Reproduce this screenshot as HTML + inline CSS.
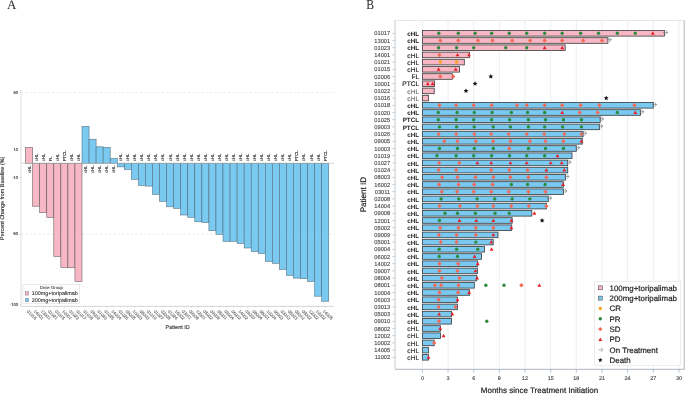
<!DOCTYPE html>
<html><head><meta charset="utf-8"><title>Figure</title>
<style>
html,body{margin:0;padding:0;background:#fff;}
body{width:685px;height:394px;overflow:hidden;font-family:"Liberation Sans", sans-serif;}
svg{display:block;will-change:transform;}
text{text-rendering:geometricPrecision;}
</style></head>
<body>
<svg width="685" height="394" viewBox="0 0 685 394">
<rect x="0" y="0" width="685" height="394" fill="#fff"/>
<text x="7" y="8.7" font-family="'Liberation Serif', serif" font-size="13" fill="#2a2a2a">A</text>
<line x1="21" y1="92.5" x2="334" y2="92.5" stroke="#d8d8d8" stroke-width="0.6" stroke-dasharray="2.2,2.2"/>
<line x1="21" y1="234" x2="334" y2="234" stroke="#d8d8d8" stroke-width="0.6" stroke-dasharray="2.2,2.2"/>
<line x1="21" y1="90" x2="21" y2="306.3" stroke="#d0d5da" stroke-width="0.8"/>
<line x1="21" y1="306.3" x2="334" y2="306.3" stroke="#c5ccd4" stroke-width="0.8"/>
<line x1="19.3" y1="92.5" x2="21" y2="92.5" stroke="#c5ccd4" stroke-width="0.6"/>
<text stroke="#333" stroke-width="0.101" x="18.2" y="93.95" font-family='"Liberation Sans", sans-serif' font-size="4.2" fill="#333" text-anchor="end">50</text>
<line x1="19.3" y1="149.1" x2="21" y2="149.1" stroke="#c5ccd4" stroke-width="0.6"/>
<text stroke="#333" stroke-width="0.101" x="18.2" y="150.55" font-family='"Liberation Sans", sans-serif' font-size="4.2" fill="#333" text-anchor="end">10</text>
<line x1="19.3" y1="177.4" x2="21" y2="177.4" stroke="#c5ccd4" stroke-width="0.6"/>
<text stroke="#333" stroke-width="0.101" x="18.2" y="178.85" font-family='"Liberation Sans", sans-serif' font-size="4.2" fill="#333" text-anchor="end">-10</text>
<line x1="19.3" y1="234" x2="21" y2="234" stroke="#c5ccd4" stroke-width="0.6"/>
<text stroke="#333" stroke-width="0.101" x="18.2" y="235.45" font-family='"Liberation Sans", sans-serif' font-size="4.2" fill="#333" text-anchor="end">-50</text>
<line x1="19.3" y1="304.75" x2="21" y2="304.75" stroke="#c5ccd4" stroke-width="0.6"/>
<text stroke="#333" stroke-width="0.101" x="18.2" y="306.2" font-family='"Liberation Sans", sans-serif' font-size="4.2" fill="#333" text-anchor="end">-100</text>
<rect x="25.6" y="147.4" width="7.05" height="15.85" fill="#F7B7C5" stroke="#5e5458" stroke-width="0.55"/>
<rect x="32.65" y="163.25" width="7.05" height="42.95" fill="#F7B7C5" stroke="#5e5458" stroke-width="0.55"/>
<rect x="39.7" y="163.25" width="7.05" height="49.35" fill="#F7B7C5" stroke="#5e5458" stroke-width="0.55"/>
<rect x="46.75" y="163.25" width="7.05" height="54.15" fill="#F7B7C5" stroke="#5e5458" stroke-width="0.55"/>
<rect x="53.8" y="163.25" width="7.05" height="93.15" fill="#F7B7C5" stroke="#5e5458" stroke-width="0.55"/>
<rect x="60.85" y="163.25" width="7.05" height="104.05" fill="#F7B7C5" stroke="#5e5458" stroke-width="0.55"/>
<rect x="67.9" y="163.25" width="7.05" height="104.55" fill="#F7B7C5" stroke="#5e5458" stroke-width="0.55"/>
<rect x="74.95" y="163.25" width="7.05" height="118.25" fill="#F7B7C5" stroke="#5e5458" stroke-width="0.55"/>
<rect x="82" y="126.5" width="7.05" height="36.75" fill="#79C9F0" stroke="#50697a" stroke-width="0.55"/>
<rect x="89.05" y="139.2" width="7.05" height="24.05" fill="#79C9F0" stroke="#50697a" stroke-width="0.55"/>
<rect x="96.1" y="146.8" width="7.05" height="16.45" fill="#79C9F0" stroke="#50697a" stroke-width="0.55"/>
<rect x="103.15" y="147.3" width="7.05" height="15.95" fill="#79C9F0" stroke="#50697a" stroke-width="0.55"/>
<rect x="110.2" y="158.7" width="7.05" height="4.55" fill="#79C9F0" stroke="#50697a" stroke-width="0.55"/>
<rect x="117.25" y="163.25" width="7.05" height="3.65" fill="#79C9F0" stroke="#50697a" stroke-width="0.55"/>
<rect x="124.3" y="163.25" width="7.05" height="6.15" fill="#79C9F0" stroke="#50697a" stroke-width="0.55"/>
<rect x="131.35" y="163.25" width="7.05" height="16.05" fill="#79C9F0" stroke="#50697a" stroke-width="0.55"/>
<rect x="138.4" y="163.25" width="7.05" height="22.15" fill="#79C9F0" stroke="#50697a" stroke-width="0.55"/>
<rect x="145.45" y="163.25" width="7.05" height="22.85" fill="#79C9F0" stroke="#50697a" stroke-width="0.55"/>
<rect x="152.5" y="163.25" width="7.05" height="31.05" fill="#79C9F0" stroke="#50697a" stroke-width="0.55"/>
<rect x="159.55" y="163.25" width="7.05" height="38.15" fill="#79C9F0" stroke="#50697a" stroke-width="0.55"/>
<rect x="166.6" y="163.25" width="7.05" height="43.55" fill="#79C9F0" stroke="#50697a" stroke-width="0.55"/>
<rect x="173.65" y="163.25" width="7.05" height="45.15" fill="#79C9F0" stroke="#50697a" stroke-width="0.55"/>
<rect x="180.7" y="163.25" width="7.05" height="51.75" fill="#79C9F0" stroke="#50697a" stroke-width="0.55"/>
<rect x="187.75" y="163.25" width="7.05" height="54.05" fill="#79C9F0" stroke="#50697a" stroke-width="0.55"/>
<rect x="194.8" y="163.25" width="7.05" height="58.55" fill="#79C9F0" stroke="#50697a" stroke-width="0.55"/>
<rect x="201.85" y="163.25" width="7.05" height="59.35" fill="#79C9F0" stroke="#50697a" stroke-width="0.55"/>
<rect x="208.9" y="163.25" width="7.05" height="67.45" fill="#79C9F0" stroke="#50697a" stroke-width="0.55"/>
<rect x="215.95" y="163.25" width="7.05" height="71.05" fill="#79C9F0" stroke="#50697a" stroke-width="0.55"/>
<rect x="223" y="163.25" width="7.05" height="78.15" fill="#79C9F0" stroke="#50697a" stroke-width="0.55"/>
<rect x="230.05" y="163.25" width="7.05" height="78.05" fill="#79C9F0" stroke="#50697a" stroke-width="0.55"/>
<rect x="237.1" y="163.25" width="7.05" height="80.25" fill="#79C9F0" stroke="#50697a" stroke-width="0.55"/>
<rect x="244.15" y="163.25" width="7.05" height="84.75" fill="#79C9F0" stroke="#50697a" stroke-width="0.55"/>
<rect x="251.2" y="163.25" width="7.05" height="88.25" fill="#79C9F0" stroke="#50697a" stroke-width="0.55"/>
<rect x="258.25" y="163.25" width="7.05" height="90.25" fill="#79C9F0" stroke="#50697a" stroke-width="0.55"/>
<rect x="265.3" y="163.25" width="7.05" height="98.05" fill="#79C9F0" stroke="#50697a" stroke-width="0.55"/>
<rect x="272.35" y="163.25" width="7.05" height="100.05" fill="#79C9F0" stroke="#50697a" stroke-width="0.55"/>
<rect x="279.4" y="163.25" width="7.05" height="106.15" fill="#79C9F0" stroke="#50697a" stroke-width="0.55"/>
<rect x="286.45" y="163.25" width="7.05" height="112.05" fill="#79C9F0" stroke="#50697a" stroke-width="0.55"/>
<rect x="293.5" y="163.25" width="7.05" height="114.85" fill="#79C9F0" stroke="#50697a" stroke-width="0.55"/>
<rect x="300.55" y="163.25" width="7.05" height="115.35" fill="#79C9F0" stroke="#50697a" stroke-width="0.55"/>
<rect x="307.6" y="163.25" width="7.05" height="118.15" fill="#79C9F0" stroke="#50697a" stroke-width="0.55"/>
<rect x="314.65" y="163.25" width="7.05" height="132.95" fill="#79C9F0" stroke="#50697a" stroke-width="0.55"/>
<rect x="321.7" y="163.25" width="7.05" height="137.95" fill="#79C9F0" stroke="#50697a" stroke-width="0.55"/>
<line x1="21" y1="92.5" x2="334" y2="92.5" stroke="#ffffff" stroke-opacity="0.22" stroke-width="0.6" stroke-dasharray="2.2,2.2"/>
<line x1="21" y1="234" x2="334" y2="234" stroke="#ffffff" stroke-opacity="0.22" stroke-width="0.6" stroke-dasharray="2.2,2.2"/>
<line x1="21" y1="163.25" x2="334" y2="163.25" stroke="#b8bcc0" stroke-width="0.6"/>
<text stroke="#333" stroke-width="0.103" transform="translate(30.52,165.25) rotate(-90)" font-family='"Liberation Sans", sans-serif' font-size="4.3" fill="#333" text-anchor="end">cHL</text>
<text stroke="#333" stroke-width="0.103" transform="translate(37.57,161.25) rotate(-90)" font-family='"Liberation Sans", sans-serif' font-size="4.3" fill="#333" text-anchor="start">cHL</text>
<text stroke="#333" stroke-width="0.103" transform="translate(44.62,161.25) rotate(-90)" font-family='"Liberation Sans", sans-serif' font-size="4.3" fill="#333" text-anchor="start">cHL</text>
<text stroke="#333" stroke-width="0.103" transform="translate(51.68,161.25) rotate(-90)" font-family='"Liberation Sans", sans-serif' font-size="4.3" fill="#333" text-anchor="start">FL</text>
<text stroke="#333" stroke-width="0.103" transform="translate(58.73,161.25) rotate(-90)" font-family='"Liberation Sans", sans-serif' font-size="4.3" fill="#333" text-anchor="start">cHL</text>
<text stroke="#333" stroke-width="0.103" transform="translate(65.78,161.25) rotate(-90)" font-family='"Liberation Sans", sans-serif' font-size="4.3" fill="#333" text-anchor="start">PTCL</text>
<text stroke="#333" stroke-width="0.103" transform="translate(72.83,161.25) rotate(-90)" font-family='"Liberation Sans", sans-serif' font-size="4.3" fill="#333" text-anchor="start">cHL</text>
<text stroke="#333" stroke-width="0.103" transform="translate(79.88,161.25) rotate(-90)" font-family='"Liberation Sans", sans-serif' font-size="4.3" fill="#333" text-anchor="start">cHL</text>
<text stroke="#333" stroke-width="0.103" transform="translate(86.93,165.25) rotate(-90)" font-family='"Liberation Sans", sans-serif' font-size="4.3" fill="#333" text-anchor="end">cHL</text>
<text stroke="#333" stroke-width="0.103" transform="translate(93.97,165.25) rotate(-90)" font-family='"Liberation Sans", sans-serif' font-size="4.3" fill="#333" text-anchor="end">cHL</text>
<text stroke="#333" stroke-width="0.103" transform="translate(101.03,165.25) rotate(-90)" font-family='"Liberation Sans", sans-serif' font-size="4.3" fill="#333" text-anchor="end">cHL</text>
<text stroke="#333" stroke-width="0.103" transform="translate(108.08,165.25) rotate(-90)" font-family='"Liberation Sans", sans-serif' font-size="4.3" fill="#333" text-anchor="end">cHL</text>
<text stroke="#333" stroke-width="0.103" transform="translate(115.12,165.25) rotate(-90)" font-family='"Liberation Sans", sans-serif' font-size="4.3" fill="#333" text-anchor="end">cHL</text>
<text stroke="#333" stroke-width="0.103" transform="translate(122.18,161.25) rotate(-90)" font-family='"Liberation Sans", sans-serif' font-size="4.3" fill="#333" text-anchor="start">cHL</text>
<text stroke="#333" stroke-width="0.103" transform="translate(129.22,161.25) rotate(-90)" font-family='"Liberation Sans", sans-serif' font-size="4.3" fill="#333" text-anchor="start">cHL</text>
<text stroke="#333" stroke-width="0.103" transform="translate(136.28,161.25) rotate(-90)" font-family='"Liberation Sans", sans-serif' font-size="4.3" fill="#333" text-anchor="start">cHL</text>
<text stroke="#333" stroke-width="0.103" transform="translate(143.33,161.25) rotate(-90)" font-family='"Liberation Sans", sans-serif' font-size="4.3" fill="#333" text-anchor="start">cHL</text>
<text stroke="#333" stroke-width="0.103" transform="translate(150.38,161.25) rotate(-90)" font-family='"Liberation Sans", sans-serif' font-size="4.3" fill="#333" text-anchor="start">cHL</text>
<text stroke="#333" stroke-width="0.103" transform="translate(157.42,161.25) rotate(-90)" font-family='"Liberation Sans", sans-serif' font-size="4.3" fill="#333" text-anchor="start">cHL</text>
<text stroke="#333" stroke-width="0.103" transform="translate(164.47,161.25) rotate(-90)" font-family='"Liberation Sans", sans-serif' font-size="4.3" fill="#333" text-anchor="start">cHL</text>
<text stroke="#333" stroke-width="0.103" transform="translate(171.53,161.25) rotate(-90)" font-family='"Liberation Sans", sans-serif' font-size="4.3" fill="#333" text-anchor="start">cHL</text>
<text stroke="#333" stroke-width="0.103" transform="translate(178.57,161.25) rotate(-90)" font-family='"Liberation Sans", sans-serif' font-size="4.3" fill="#333" text-anchor="start">cHL</text>
<text stroke="#333" stroke-width="0.103" transform="translate(185.62,161.25) rotate(-90)" font-family='"Liberation Sans", sans-serif' font-size="4.3" fill="#333" text-anchor="start">cHL</text>
<text stroke="#333" stroke-width="0.103" transform="translate(192.67,161.25) rotate(-90)" font-family='"Liberation Sans", sans-serif' font-size="4.3" fill="#333" text-anchor="start">cHL</text>
<text stroke="#333" stroke-width="0.103" transform="translate(199.72,161.25) rotate(-90)" font-family='"Liberation Sans", sans-serif' font-size="4.3" fill="#333" text-anchor="start">cHL</text>
<text stroke="#333" stroke-width="0.103" transform="translate(206.78,161.25) rotate(-90)" font-family='"Liberation Sans", sans-serif' font-size="4.3" fill="#333" text-anchor="start">cHL</text>
<text stroke="#333" stroke-width="0.103" transform="translate(213.82,161.25) rotate(-90)" font-family='"Liberation Sans", sans-serif' font-size="4.3" fill="#333" text-anchor="start">cHL</text>
<text stroke="#333" stroke-width="0.103" transform="translate(220.88,161.25) rotate(-90)" font-family='"Liberation Sans", sans-serif' font-size="4.3" fill="#333" text-anchor="start">cHL</text>
<text stroke="#333" stroke-width="0.103" transform="translate(227.92,161.25) rotate(-90)" font-family='"Liberation Sans", sans-serif' font-size="4.3" fill="#333" text-anchor="start">cHL</text>
<text stroke="#333" stroke-width="0.103" transform="translate(234.97,161.25) rotate(-90)" font-family='"Liberation Sans", sans-serif' font-size="4.3" fill="#333" text-anchor="start">cHL</text>
<text stroke="#333" stroke-width="0.103" transform="translate(242.03,161.25) rotate(-90)" font-family='"Liberation Sans", sans-serif' font-size="4.3" fill="#333" text-anchor="start">cHL</text>
<text stroke="#333" stroke-width="0.103" transform="translate(249.07,161.25) rotate(-90)" font-family='"Liberation Sans", sans-serif' font-size="4.3" fill="#333" text-anchor="start">cHL</text>
<text stroke="#333" stroke-width="0.103" transform="translate(256.12,161.25) rotate(-90)" font-family='"Liberation Sans", sans-serif' font-size="4.3" fill="#333" text-anchor="start">cHL</text>
<text stroke="#333" stroke-width="0.103" transform="translate(263.17,161.25) rotate(-90)" font-family='"Liberation Sans", sans-serif' font-size="4.3" fill="#333" text-anchor="start">cHL</text>
<text stroke="#333" stroke-width="0.103" transform="translate(270.22,161.25) rotate(-90)" font-family='"Liberation Sans", sans-serif' font-size="4.3" fill="#333" text-anchor="start">cHL</text>
<text stroke="#333" stroke-width="0.103" transform="translate(277.27,161.25) rotate(-90)" font-family='"Liberation Sans", sans-serif' font-size="4.3" fill="#333" text-anchor="start">cHL</text>
<text stroke="#333" stroke-width="0.103" transform="translate(284.32,161.25) rotate(-90)" font-family='"Liberation Sans", sans-serif' font-size="4.3" fill="#333" text-anchor="start">cHL</text>
<text stroke="#333" stroke-width="0.103" transform="translate(291.38,161.25) rotate(-90)" font-family='"Liberation Sans", sans-serif' font-size="4.3" fill="#333" text-anchor="start">cHL</text>
<text stroke="#333" stroke-width="0.103" transform="translate(298.43,161.25) rotate(-90)" font-family='"Liberation Sans", sans-serif' font-size="4.3" fill="#333" text-anchor="start">PTCL</text>
<text stroke="#333" stroke-width="0.103" transform="translate(305.47,161.25) rotate(-90)" font-family='"Liberation Sans", sans-serif' font-size="4.3" fill="#333" text-anchor="start">cHL</text>
<text stroke="#333" stroke-width="0.103" transform="translate(312.52,161.25) rotate(-90)" font-family='"Liberation Sans", sans-serif' font-size="4.3" fill="#333" text-anchor="start">cHL</text>
<text stroke="#333" stroke-width="0.103" transform="translate(319.57,161.25) rotate(-90)" font-family='"Liberation Sans", sans-serif' font-size="4.3" fill="#333" text-anchor="start">cHL</text>
<text stroke="#333" stroke-width="0.103" transform="translate(326.62,161.25) rotate(-90)" font-family='"Liberation Sans", sans-serif' font-size="4.3" fill="#333" text-anchor="start">PTCL</text>
<line x1="29.12" y1="306.3" x2="29.12" y2="307.9" stroke="#c5ccd4" stroke-width="0.5"/>
<text stroke="#666" stroke-width="0.103" transform="translate(26.52,311.5) rotate(45)" font-family='"Liberation Sans", sans-serif' font-size="4.3" fill="#666">01016</text>
<line x1="36.17" y1="306.3" x2="36.17" y2="307.9" stroke="#c5ccd4" stroke-width="0.5"/>
<text stroke="#666" stroke-width="0.103" transform="translate(33.57,311.5) rotate(45)" font-family='"Liberation Sans", sans-serif' font-size="4.3" fill="#666">14001</text>
<line x1="43.23" y1="306.3" x2="43.23" y2="307.9" stroke="#c5ccd4" stroke-width="0.5"/>
<text stroke="#666" stroke-width="0.103" transform="translate(40.62,311.5) rotate(45)" font-family='"Liberation Sans", sans-serif' font-size="4.3" fill="#666">13001</text>
<line x1="50.28" y1="306.3" x2="50.28" y2="307.9" stroke="#c5ccd4" stroke-width="0.5"/>
<text stroke="#666" stroke-width="0.103" transform="translate(47.68,311.5) rotate(45)" font-family='"Liberation Sans", sans-serif' font-size="4.3" fill="#666">01021</text>
<line x1="57.33" y1="306.3" x2="57.33" y2="307.9" stroke="#c5ccd4" stroke-width="0.5"/>
<text stroke="#666" stroke-width="0.103" transform="translate(54.73,311.5) rotate(45)" font-family='"Liberation Sans", sans-serif' font-size="4.3" fill="#666">01015</text>
<line x1="64.38" y1="306.3" x2="64.38" y2="307.9" stroke="#c5ccd4" stroke-width="0.5"/>
<text stroke="#666" stroke-width="0.103" transform="translate(61.77,311.5) rotate(45)" font-family='"Liberation Sans", sans-serif' font-size="4.3" fill="#666">10001</text>
<line x1="71.42" y1="306.3" x2="71.42" y2="307.9" stroke="#c5ccd4" stroke-width="0.5"/>
<text stroke="#666" stroke-width="0.103" transform="translate(68.83,311.5) rotate(45)" font-family='"Liberation Sans", sans-serif' font-size="4.3" fill="#666">01023</text>
<line x1="78.47" y1="306.3" x2="78.47" y2="307.9" stroke="#c5ccd4" stroke-width="0.5"/>
<text stroke="#666" stroke-width="0.103" transform="translate(75.88,311.5) rotate(45)" font-family='"Liberation Sans", sans-serif' font-size="4.3" fill="#666">01017</text>
<line x1="85.53" y1="306.3" x2="85.53" y2="307.9" stroke="#c5ccd4" stroke-width="0.5"/>
<text stroke="#666" stroke-width="0.103" transform="translate(82.93,311.5) rotate(45)" font-family='"Liberation Sans", sans-serif' font-size="4.3" fill="#666">01018</text>
<line x1="92.57" y1="306.3" x2="92.57" y2="307.9" stroke="#c5ccd4" stroke-width="0.5"/>
<text stroke="#666" stroke-width="0.103" transform="translate(89.97,311.5) rotate(45)" font-family='"Liberation Sans", sans-serif' font-size="4.3" fill="#666">09003</text>
<line x1="99.62" y1="306.3" x2="99.62" y2="307.9" stroke="#c5ccd4" stroke-width="0.5"/>
<text stroke="#666" stroke-width="0.103" transform="translate(97.03,311.5) rotate(45)" font-family='"Liberation Sans", sans-serif' font-size="4.3" fill="#666">01020</text>
<line x1="106.68" y1="306.3" x2="106.68" y2="307.9" stroke="#c5ccd4" stroke-width="0.5"/>
<text stroke="#666" stroke-width="0.103" transform="translate(104.08,311.5) rotate(45)" font-family='"Liberation Sans", sans-serif' font-size="4.3" fill="#666">01025</text>
<line x1="113.72" y1="306.3" x2="113.72" y2="307.9" stroke="#c5ccd4" stroke-width="0.5"/>
<text stroke="#666" stroke-width="0.103" transform="translate(111.12,311.5) rotate(45)" font-family='"Liberation Sans", sans-serif' font-size="4.3" fill="#666">14004</text>
<line x1="120.78" y1="306.3" x2="120.78" y2="307.9" stroke="#c5ccd4" stroke-width="0.5"/>
<text stroke="#666" stroke-width="0.103" transform="translate(118.18,311.5) rotate(45)" font-family='"Liberation Sans", sans-serif' font-size="4.3" fill="#666">01026</text>
<line x1="127.82" y1="306.3" x2="127.82" y2="307.9" stroke="#c5ccd4" stroke-width="0.5"/>
<text stroke="#666" stroke-width="0.103" transform="translate(125.22,311.5) rotate(45)" font-family='"Liberation Sans", sans-serif' font-size="4.3" fill="#666">09005</text>
<line x1="134.88" y1="306.3" x2="134.88" y2="307.9" stroke="#c5ccd4" stroke-width="0.5"/>
<text stroke="#666" stroke-width="0.103" transform="translate(132.28,311.5) rotate(45)" font-family='"Liberation Sans", sans-serif' font-size="4.3" fill="#666">10003</text>
<line x1="141.93" y1="306.3" x2="141.93" y2="307.9" stroke="#c5ccd4" stroke-width="0.5"/>
<text stroke="#666" stroke-width="0.103" transform="translate(139.33,311.5) rotate(45)" font-family='"Liberation Sans", sans-serif' font-size="4.3" fill="#666">08003</text>
<line x1="148.97" y1="306.3" x2="148.97" y2="307.9" stroke="#c5ccd4" stroke-width="0.5"/>
<text stroke="#666" stroke-width="0.103" transform="translate(146.38,311.5) rotate(45)" font-family='"Liberation Sans", sans-serif' font-size="4.3" fill="#666">01019</text>
<line x1="156.02" y1="306.3" x2="156.02" y2="307.9" stroke="#c5ccd4" stroke-width="0.5"/>
<text stroke="#666" stroke-width="0.103" transform="translate(153.42,311.5) rotate(45)" font-family='"Liberation Sans", sans-serif' font-size="4.3" fill="#666">01027</text>
<line x1="163.07" y1="306.3" x2="163.07" y2="307.9" stroke="#c5ccd4" stroke-width="0.5"/>
<text stroke="#666" stroke-width="0.103" transform="translate(160.47,311.5) rotate(45)" font-family='"Liberation Sans", sans-serif' font-size="4.3" fill="#666">02008</text>
<line x1="170.12" y1="306.3" x2="170.12" y2="307.9" stroke="#c5ccd4" stroke-width="0.5"/>
<text stroke="#666" stroke-width="0.103" transform="translate(167.53,311.5) rotate(45)" font-family='"Liberation Sans", sans-serif' font-size="4.3" fill="#666">01024</text>
<line x1="177.17" y1="306.3" x2="177.17" y2="307.9" stroke="#c5ccd4" stroke-width="0.5"/>
<text stroke="#666" stroke-width="0.103" transform="translate(174.57,311.5) rotate(45)" font-family='"Liberation Sans", sans-serif' font-size="4.3" fill="#666">16002</text>
<line x1="184.22" y1="306.3" x2="184.22" y2="307.9" stroke="#c5ccd4" stroke-width="0.5"/>
<text stroke="#666" stroke-width="0.103" transform="translate(181.62,311.5) rotate(45)" font-family='"Liberation Sans", sans-serif' font-size="4.3" fill="#666">03011</text>
<line x1="191.27" y1="306.3" x2="191.27" y2="307.9" stroke="#c5ccd4" stroke-width="0.5"/>
<text stroke="#666" stroke-width="0.103" transform="translate(188.67,311.5) rotate(45)" font-family='"Liberation Sans", sans-serif' font-size="4.3" fill="#666">09008</text>
<line x1="198.32" y1="306.3" x2="198.32" y2="307.9" stroke="#c5ccd4" stroke-width="0.5"/>
<text stroke="#666" stroke-width="0.103" transform="translate(195.72,311.5) rotate(45)" font-family='"Liberation Sans", sans-serif' font-size="4.3" fill="#666">12001</text>
<line x1="205.38" y1="306.3" x2="205.38" y2="307.9" stroke="#c5ccd4" stroke-width="0.5"/>
<text stroke="#666" stroke-width="0.103" transform="translate(202.78,311.5) rotate(45)" font-family='"Liberation Sans", sans-serif' font-size="4.3" fill="#666">05002</text>
<line x1="212.42" y1="306.3" x2="212.42" y2="307.9" stroke="#c5ccd4" stroke-width="0.5"/>
<text stroke="#666" stroke-width="0.103" transform="translate(209.82,311.5) rotate(45)" font-family='"Liberation Sans", sans-serif' font-size="4.3" fill="#666">09009</text>
<line x1="219.47" y1="306.3" x2="219.47" y2="307.9" stroke="#c5ccd4" stroke-width="0.5"/>
<text stroke="#666" stroke-width="0.103" transform="translate(216.88,311.5) rotate(45)" font-family='"Liberation Sans", sans-serif' font-size="4.3" fill="#666">05001</text>
<line x1="226.52" y1="306.3" x2="226.52" y2="307.9" stroke="#c5ccd4" stroke-width="0.5"/>
<text stroke="#666" stroke-width="0.103" transform="translate(223.92,311.5) rotate(45)" font-family='"Liberation Sans", sans-serif' font-size="4.3" fill="#666">09004</text>
<line x1="233.57" y1="306.3" x2="233.57" y2="307.9" stroke="#c5ccd4" stroke-width="0.5"/>
<text stroke="#666" stroke-width="0.103" transform="translate(230.97,311.5) rotate(45)" font-family='"Liberation Sans", sans-serif' font-size="4.3" fill="#666">06002</text>
<line x1="240.62" y1="306.3" x2="240.62" y2="307.9" stroke="#c5ccd4" stroke-width="0.5"/>
<text stroke="#666" stroke-width="0.103" transform="translate(238.03,311.5) rotate(45)" font-family='"Liberation Sans", sans-serif' font-size="4.3" fill="#666">14002</text>
<line x1="247.67" y1="306.3" x2="247.67" y2="307.9" stroke="#c5ccd4" stroke-width="0.5"/>
<text stroke="#666" stroke-width="0.103" transform="translate(245.07,311.5) rotate(45)" font-family='"Liberation Sans", sans-serif' font-size="4.3" fill="#666">09007</text>
<line x1="254.72" y1="306.3" x2="254.72" y2="307.9" stroke="#c5ccd4" stroke-width="0.5"/>
<text stroke="#666" stroke-width="0.103" transform="translate(252.12,311.5) rotate(45)" font-family='"Liberation Sans", sans-serif' font-size="4.3" fill="#666">08004</text>
<line x1="261.77" y1="306.3" x2="261.77" y2="307.9" stroke="#c5ccd4" stroke-width="0.5"/>
<text stroke="#666" stroke-width="0.103" transform="translate(259.17,311.5) rotate(45)" font-family='"Liberation Sans", sans-serif' font-size="4.3" fill="#666">08001</text>
<line x1="268.82" y1="306.3" x2="268.82" y2="307.9" stroke="#c5ccd4" stroke-width="0.5"/>
<text stroke="#666" stroke-width="0.103" transform="translate(266.22,311.5) rotate(45)" font-family='"Liberation Sans", sans-serif' font-size="4.3" fill="#666">10004</text>
<line x1="275.88" y1="306.3" x2="275.88" y2="307.9" stroke="#c5ccd4" stroke-width="0.5"/>
<text stroke="#666" stroke-width="0.103" transform="translate(273.27,311.5) rotate(45)" font-family='"Liberation Sans", sans-serif' font-size="4.3" fill="#666">06003</text>
<line x1="282.93" y1="306.3" x2="282.93" y2="307.9" stroke="#c5ccd4" stroke-width="0.5"/>
<text stroke="#666" stroke-width="0.103" transform="translate(280.32,311.5) rotate(45)" font-family='"Liberation Sans", sans-serif' font-size="4.3" fill="#666">03013</text>
<line x1="289.98" y1="306.3" x2="289.98" y2="307.9" stroke="#c5ccd4" stroke-width="0.5"/>
<text stroke="#666" stroke-width="0.103" transform="translate(287.38,311.5) rotate(45)" font-family='"Liberation Sans", sans-serif' font-size="4.3" fill="#666">05003</text>
<line x1="297.03" y1="306.3" x2="297.03" y2="307.9" stroke="#c5ccd4" stroke-width="0.5"/>
<text stroke="#666" stroke-width="0.103" transform="translate(294.43,311.5) rotate(45)" font-family='"Liberation Sans", sans-serif' font-size="4.3" fill="#666">09010</text>
<line x1="304.07" y1="306.3" x2="304.07" y2="307.9" stroke="#c5ccd4" stroke-width="0.5"/>
<text stroke="#666" stroke-width="0.103" transform="translate(301.47,311.5) rotate(45)" font-family='"Liberation Sans", sans-serif' font-size="4.3" fill="#666">08002</text>
<line x1="311.12" y1="306.3" x2="311.12" y2="307.9" stroke="#c5ccd4" stroke-width="0.5"/>
<text stroke="#666" stroke-width="0.103" transform="translate(308.52,311.5) rotate(45)" font-family='"Liberation Sans", sans-serif' font-size="4.3" fill="#666">12002</text>
<line x1="318.18" y1="306.3" x2="318.18" y2="307.9" stroke="#c5ccd4" stroke-width="0.5"/>
<text stroke="#666" stroke-width="0.103" transform="translate(315.57,311.5) rotate(45)" font-family='"Liberation Sans", sans-serif' font-size="4.3" fill="#666">10002</text>
<line x1="325.23" y1="306.3" x2="325.23" y2="307.9" stroke="#c5ccd4" stroke-width="0.5"/>
<text stroke="#666" stroke-width="0.103" transform="translate(322.62,311.5) rotate(45)" font-family='"Liberation Sans", sans-serif' font-size="4.3" fill="#666">14005</text>
<text stroke="#333" stroke-width="0.132" x="177.7" y="328.6" font-family='"Liberation Sans", sans-serif' font-size="5.5" fill="#333" text-anchor="middle">Patient ID</text>
<text stroke="#333" stroke-width="0.130" transform="translate(4.4,198.3) rotate(-90)" font-family='"Liberation Sans", sans-serif' font-size="5.4" fill="#333" text-anchor="middle">Percent Change from Baseline (%)</text>
<rect x="22.9" y="284.3" width="56.7" height="19.1" fill="#fff" stroke="#dcdcdc" stroke-width="0.6"/>
<text stroke="#444" stroke-width="0.103" x="51.3" y="288.6" font-family='"Liberation Sans", sans-serif' font-size="4.3" fill="#444" text-anchor="middle">Dose Group</text>
<rect x="25.3" y="291.8" width="3.4" height="3.3" fill="#F7B7C5" stroke="#666" stroke-width="0.4"/>
<rect x="25.3" y="298.5" width="3.4" height="3.3" fill="#79C9F0" stroke="#666" stroke-width="0.4"/>
<text stroke="#3a3a3a" stroke-width="0.130" x="31.8" y="295.4" font-family='"Liberation Sans", sans-serif' font-size="5.4" fill="#3a3a3a">100mg+toripalimab</text>
<text stroke="#3a3a3a" stroke-width="0.130" x="31.8" y="302.3" font-family='"Liberation Sans", sans-serif' font-size="5.4" fill="#3a3a3a">200mg+toripalimab</text>
<text transform="translate(366.3,8.6) scale(0.9,1.05)" font-family="'Liberation Serif', serif" font-size="13" fill="#2a2a2a">B</text>
<rect x="395.1" y="20.4" width="289.1" height="348.9" fill="#fff" stroke="#dcdfe3" stroke-width="0.7"/>
<line x1="684.2" y1="20.4" x2="684.2" y2="369.3" stroke="#b0b4b8" stroke-width="0.8"/>
<line x1="422.4" y1="20.4" x2="422.4" y2="369.3" stroke="#e6e6e6" stroke-width="0.7"/>
<line x1="448.05" y1="20.4" x2="448.05" y2="369.3" stroke="#e6e6e6" stroke-width="0.7"/>
<line x1="473.7" y1="20.4" x2="473.7" y2="369.3" stroke="#e6e6e6" stroke-width="0.7"/>
<line x1="499.35" y1="20.4" x2="499.35" y2="369.3" stroke="#e6e6e6" stroke-width="0.7"/>
<line x1="525" y1="20.4" x2="525" y2="369.3" stroke="#e6e6e6" stroke-width="0.7"/>
<line x1="550.65" y1="20.4" x2="550.65" y2="369.3" stroke="#e6e6e6" stroke-width="0.7"/>
<line x1="576.3" y1="20.4" x2="576.3" y2="369.3" stroke="#e6e6e6" stroke-width="0.7"/>
<line x1="601.95" y1="20.4" x2="601.95" y2="369.3" stroke="#e6e6e6" stroke-width="0.7"/>
<line x1="627.6" y1="20.4" x2="627.6" y2="369.3" stroke="#e6e6e6" stroke-width="0.7"/>
<line x1="653.25" y1="20.4" x2="653.25" y2="369.3" stroke="#e6e6e6" stroke-width="0.7"/>
<line x1="678.9" y1="20.4" x2="678.9" y2="369.3" stroke="#e6e6e6" stroke-width="0.7"/>
<line x1="395.1" y1="20.4" x2="395.1" y2="369.3" stroke="#c8d0d8" stroke-width="0.8"/>
<line x1="395.1" y1="369.3" x2="684.2" y2="369.3" stroke="#a4aeb8" stroke-width="0.8"/>
<line x1="422.4" y1="369.3" x2="422.4" y2="372.7" stroke="#9ea9b4" stroke-width="0.7"/>
<text stroke="#444" stroke-width="0.130" x="422.4" y="379.7" font-family='"Liberation Sans", sans-serif' font-size="5.4" fill="#444" text-anchor="middle">0</text>
<line x1="448.05" y1="369.3" x2="448.05" y2="372.7" stroke="#9ea9b4" stroke-width="0.7"/>
<text stroke="#444" stroke-width="0.130" x="448.05" y="379.7" font-family='"Liberation Sans", sans-serif' font-size="5.4" fill="#444" text-anchor="middle">3</text>
<line x1="473.7" y1="369.3" x2="473.7" y2="372.7" stroke="#9ea9b4" stroke-width="0.7"/>
<text stroke="#444" stroke-width="0.130" x="473.7" y="379.7" font-family='"Liberation Sans", sans-serif' font-size="5.4" fill="#444" text-anchor="middle">6</text>
<line x1="499.35" y1="369.3" x2="499.35" y2="372.7" stroke="#9ea9b4" stroke-width="0.7"/>
<text stroke="#444" stroke-width="0.130" x="499.35" y="379.7" font-family='"Liberation Sans", sans-serif' font-size="5.4" fill="#444" text-anchor="middle">9</text>
<line x1="525" y1="369.3" x2="525" y2="372.7" stroke="#9ea9b4" stroke-width="0.7"/>
<text stroke="#444" stroke-width="0.130" x="525" y="379.7" font-family='"Liberation Sans", sans-serif' font-size="5.4" fill="#444" text-anchor="middle">12</text>
<line x1="550.65" y1="369.3" x2="550.65" y2="372.7" stroke="#9ea9b4" stroke-width="0.7"/>
<text stroke="#444" stroke-width="0.130" x="550.65" y="379.7" font-family='"Liberation Sans", sans-serif' font-size="5.4" fill="#444" text-anchor="middle">15</text>
<line x1="576.3" y1="369.3" x2="576.3" y2="372.7" stroke="#9ea9b4" stroke-width="0.7"/>
<text stroke="#444" stroke-width="0.130" x="576.3" y="379.7" font-family='"Liberation Sans", sans-serif' font-size="5.4" fill="#444" text-anchor="middle">18</text>
<line x1="601.95" y1="369.3" x2="601.95" y2="372.7" stroke="#9ea9b4" stroke-width="0.7"/>
<text stroke="#444" stroke-width="0.130" x="601.95" y="379.7" font-family='"Liberation Sans", sans-serif' font-size="5.4" fill="#444" text-anchor="middle">21</text>
<line x1="627.6" y1="369.3" x2="627.6" y2="372.7" stroke="#9ea9b4" stroke-width="0.7"/>
<text stroke="#444" stroke-width="0.130" x="627.6" y="379.7" font-family='"Liberation Sans", sans-serif' font-size="5.4" fill="#444" text-anchor="middle">24</text>
<line x1="653.25" y1="369.3" x2="653.25" y2="372.7" stroke="#9ea9b4" stroke-width="0.7"/>
<text stroke="#444" stroke-width="0.130" x="653.25" y="379.7" font-family='"Liberation Sans", sans-serif' font-size="5.4" fill="#444" text-anchor="middle">27</text>
<line x1="678.9" y1="369.3" x2="678.9" y2="372.7" stroke="#9ea9b4" stroke-width="0.7"/>
<text stroke="#444" stroke-width="0.130" x="678.9" y="379.7" font-family='"Liberation Sans", sans-serif' font-size="5.4" fill="#444" text-anchor="middle">30</text>
<text stroke="#222" stroke-width="0.192" x="539.5" y="392.8" font-family='"Liberation Sans", sans-serif' font-size="8" fill="#222" text-anchor="middle">Months since Treatment Initiation</text>
<text stroke="#222" stroke-width="0.194" transform="translate(366.3,194.6) rotate(-90)" font-family='"Liberation Sans", sans-serif' font-size="8.1" fill="#222" text-anchor="middle">Patient ID</text>
<text stroke="#4d4d4d" stroke-width="0.137" x="390.2" y="35.3" font-family='"Liberation Sans", sans-serif' font-size="5.7" fill="#4d4d4d" text-anchor="end">01017</text>
<line x1="392.2" y1="33.3" x2="395.1" y2="33.3" stroke="#aab4be" stroke-width="0.6"/>
<text x="419.1" y="35.9" font-family='"Liberation Sans", sans-serif' font-size="6.3" font-weight="bold" fill="#1a1a1a" text-anchor="end">cHL</text>
<text stroke="#4d4d4d" stroke-width="0.137" x="390.2" y="42.5" font-family='"Liberation Sans", sans-serif' font-size="5.7" fill="#4d4d4d" text-anchor="end">13001</text>
<line x1="392.2" y1="40.5" x2="395.1" y2="40.5" stroke="#aab4be" stroke-width="0.6"/>
<text x="419.1" y="43.1" font-family='"Liberation Sans", sans-serif' font-size="6.3" font-weight="bold" fill="#1a1a1a" text-anchor="end">cHL</text>
<text stroke="#4d4d4d" stroke-width="0.137" x="390.2" y="49.7" font-family='"Liberation Sans", sans-serif' font-size="5.7" fill="#4d4d4d" text-anchor="end">01023</text>
<line x1="392.2" y1="47.7" x2="395.1" y2="47.7" stroke="#aab4be" stroke-width="0.6"/>
<text x="419.1" y="50.3" font-family='"Liberation Sans", sans-serif' font-size="6.3" font-weight="bold" fill="#1a1a1a" text-anchor="end">cHL</text>
<text stroke="#4d4d4d" stroke-width="0.137" x="390.2" y="56.9" font-family='"Liberation Sans", sans-serif' font-size="5.7" fill="#4d4d4d" text-anchor="end">14001</text>
<line x1="392.2" y1="54.9" x2="395.1" y2="54.9" stroke="#aab4be" stroke-width="0.6"/>
<text stroke="#262626" stroke-width="0.158" x="419.1" y="57.5" font-family='"Liberation Sans", sans-serif' font-size="6.6" font-weight="normal" fill="#262626" text-anchor="end">cHL</text>
<text stroke="#4d4d4d" stroke-width="0.137" x="390.2" y="64.1" font-family='"Liberation Sans", sans-serif' font-size="5.7" fill="#4d4d4d" text-anchor="end">01021</text>
<line x1="392.2" y1="62.1" x2="395.1" y2="62.1" stroke="#aab4be" stroke-width="0.6"/>
<text stroke="#262626" stroke-width="0.158" x="419.1" y="64.7" font-family='"Liberation Sans", sans-serif' font-size="6.6" font-weight="normal" fill="#262626" text-anchor="end">cHL</text>
<text stroke="#4d4d4d" stroke-width="0.137" x="390.2" y="71.3" font-family='"Liberation Sans", sans-serif' font-size="5.7" fill="#4d4d4d" text-anchor="end">01015</text>
<line x1="392.2" y1="69.3" x2="395.1" y2="69.3" stroke="#aab4be" stroke-width="0.6"/>
<text stroke="#262626" stroke-width="0.158" x="419.1" y="71.9" font-family='"Liberation Sans", sans-serif' font-size="6.6" font-weight="normal" fill="#262626" text-anchor="end">cHL</text>
<text stroke="#4d4d4d" stroke-width="0.137" x="390.2" y="78.5" font-family='"Liberation Sans", sans-serif' font-size="5.7" fill="#4d4d4d" text-anchor="end">02006</text>
<line x1="392.2" y1="76.5" x2="395.1" y2="76.5" stroke="#aab4be" stroke-width="0.6"/>
<text stroke="#1a1a1a" stroke-width="0.158" x="419.1" y="79.1" font-family='"Liberation Sans", sans-serif' font-size="6.6" font-weight="normal" fill="#1a1a1a" text-anchor="end">FL</text>
<text stroke="#4d4d4d" stroke-width="0.137" x="390.2" y="85.7" font-family='"Liberation Sans", sans-serif' font-size="5.7" fill="#4d4d4d" text-anchor="end">10001</text>
<line x1="392.2" y1="83.7" x2="395.1" y2="83.7" stroke="#aab4be" stroke-width="0.6"/>
<text stroke="#1a1a1a" stroke-width="0.158" x="419.1" y="86.3" font-family='"Liberation Sans", sans-serif' font-size="6.6" font-weight="normal" fill="#1a1a1a" text-anchor="end">PTCL</text>
<text stroke="#4d4d4d" stroke-width="0.137" x="390.2" y="92.9" font-family='"Liberation Sans", sans-serif' font-size="5.7" fill="#4d4d4d" text-anchor="end">01022</text>
<line x1="392.2" y1="90.9" x2="395.1" y2="90.9" stroke="#aab4be" stroke-width="0.6"/>
<text stroke="#707070" stroke-width="0.158" x="419.1" y="93.5" font-family='"Liberation Sans", sans-serif' font-size="6.6" font-weight="normal" fill="#707070" text-anchor="end">cHL</text>
<text stroke="#4d4d4d" stroke-width="0.137" x="390.2" y="100.1" font-family='"Liberation Sans", sans-serif' font-size="5.7" fill="#4d4d4d" text-anchor="end">01016</text>
<line x1="392.2" y1="98.1" x2="395.1" y2="98.1" stroke="#aab4be" stroke-width="0.6"/>
<text stroke="#707070" stroke-width="0.158" x="419.1" y="100.7" font-family='"Liberation Sans", sans-serif' font-size="6.6" font-weight="normal" fill="#707070" text-anchor="end">cHL</text>
<text stroke="#4d4d4d" stroke-width="0.137" x="390.2" y="107.3" font-family='"Liberation Sans", sans-serif' font-size="5.7" fill="#4d4d4d" text-anchor="end">01018</text>
<line x1="392.2" y1="105.3" x2="395.1" y2="105.3" stroke="#aab4be" stroke-width="0.6"/>
<text x="419.1" y="107.9" font-family='"Liberation Sans", sans-serif' font-size="6.3" font-weight="bold" fill="#1a1a1a" text-anchor="end">cHL</text>
<text stroke="#4d4d4d" stroke-width="0.137" x="390.2" y="114.5" font-family='"Liberation Sans", sans-serif' font-size="5.7" fill="#4d4d4d" text-anchor="end">01020</text>
<line x1="392.2" y1="112.5" x2="395.1" y2="112.5" stroke="#aab4be" stroke-width="0.6"/>
<text x="419.1" y="115.1" font-family='"Liberation Sans", sans-serif' font-size="6.3" font-weight="bold" fill="#1a1a1a" text-anchor="end">cHL</text>
<text stroke="#4d4d4d" stroke-width="0.137" x="390.2" y="121.7" font-family='"Liberation Sans", sans-serif' font-size="5.7" fill="#4d4d4d" text-anchor="end">01025</text>
<line x1="392.2" y1="119.7" x2="395.1" y2="119.7" stroke="#aab4be" stroke-width="0.6"/>
<text x="419.1" y="122.3" font-family='"Liberation Sans", sans-serif' font-size="6.3" font-weight="bold" fill="#1a1a1a" text-anchor="end">PTCL</text>
<text stroke="#4d4d4d" stroke-width="0.137" x="390.2" y="128.9" font-family='"Liberation Sans", sans-serif' font-size="5.7" fill="#4d4d4d" text-anchor="end">09003</text>
<line x1="392.2" y1="126.9" x2="395.1" y2="126.9" stroke="#aab4be" stroke-width="0.6"/>
<text x="419.1" y="129.5" font-family='"Liberation Sans", sans-serif' font-size="6.3" font-weight="bold" fill="#1a1a1a" text-anchor="end">PTCL</text>
<text stroke="#4d4d4d" stroke-width="0.137" x="390.2" y="136.1" font-family='"Liberation Sans", sans-serif' font-size="5.7" fill="#4d4d4d" text-anchor="end">01026</text>
<line x1="392.2" y1="134.1" x2="395.1" y2="134.1" stroke="#aab4be" stroke-width="0.6"/>
<text x="419.1" y="136.7" font-family='"Liberation Sans", sans-serif' font-size="6.3" font-weight="bold" fill="#2a2a2a" text-anchor="end">cHL</text>
<text stroke="#4d4d4d" stroke-width="0.137" x="390.2" y="143.3" font-family='"Liberation Sans", sans-serif' font-size="5.7" fill="#4d4d4d" text-anchor="end">09005</text>
<line x1="392.2" y1="141.3" x2="395.1" y2="141.3" stroke="#aab4be" stroke-width="0.6"/>
<text x="419.1" y="143.9" font-family='"Liberation Sans", sans-serif' font-size="6.3" font-weight="bold" fill="#2a2a2a" text-anchor="end">cHL</text>
<text stroke="#4d4d4d" stroke-width="0.137" x="390.2" y="150.5" font-family='"Liberation Sans", sans-serif' font-size="5.7" fill="#4d4d4d" text-anchor="end">10003</text>
<line x1="392.2" y1="148.5" x2="395.1" y2="148.5" stroke="#aab4be" stroke-width="0.6"/>
<text x="419.1" y="151.1" font-family='"Liberation Sans", sans-serif' font-size="6.3" font-weight="bold" fill="#2a2a2a" text-anchor="end">cHL</text>
<text stroke="#4d4d4d" stroke-width="0.137" x="390.2" y="157.7" font-family='"Liberation Sans", sans-serif' font-size="5.7" fill="#4d4d4d" text-anchor="end">01019</text>
<line x1="392.2" y1="155.7" x2="395.1" y2="155.7" stroke="#aab4be" stroke-width="0.6"/>
<text x="419.1" y="158.3" font-family='"Liberation Sans", sans-serif' font-size="6.3" font-weight="bold" fill="#2a2a2a" text-anchor="end">cHL</text>
<text stroke="#4d4d4d" stroke-width="0.137" x="390.2" y="164.9" font-family='"Liberation Sans", sans-serif' font-size="5.7" fill="#4d4d4d" text-anchor="end">01027</text>
<line x1="392.2" y1="162.9" x2="395.1" y2="162.9" stroke="#aab4be" stroke-width="0.6"/>
<text x="419.1" y="165.5" font-family='"Liberation Sans", sans-serif' font-size="6.3" font-weight="bold" fill="#2a2a2a" text-anchor="end">cHL</text>
<text stroke="#4d4d4d" stroke-width="0.137" x="390.2" y="172.1" font-family='"Liberation Sans", sans-serif' font-size="5.7" fill="#4d4d4d" text-anchor="end">01024</text>
<line x1="392.2" y1="170.1" x2="395.1" y2="170.1" stroke="#aab4be" stroke-width="0.6"/>
<text x="419.1" y="172.7" font-family='"Liberation Sans", sans-serif' font-size="6.3" font-weight="bold" fill="#2a2a2a" text-anchor="end">cHL</text>
<text stroke="#4d4d4d" stroke-width="0.137" x="390.2" y="179.3" font-family='"Liberation Sans", sans-serif' font-size="5.7" fill="#4d4d4d" text-anchor="end">08003</text>
<line x1="392.2" y1="177.3" x2="395.1" y2="177.3" stroke="#aab4be" stroke-width="0.6"/>
<text x="419.1" y="179.9" font-family='"Liberation Sans", sans-serif' font-size="6.3" font-weight="bold" fill="#2a2a2a" text-anchor="end">cHL</text>
<text stroke="#4d4d4d" stroke-width="0.137" x="390.2" y="186.5" font-family='"Liberation Sans", sans-serif' font-size="5.7" fill="#4d4d4d" text-anchor="end">16002</text>
<line x1="392.2" y1="184.5" x2="395.1" y2="184.5" stroke="#aab4be" stroke-width="0.6"/>
<text x="419.1" y="187.1" font-family='"Liberation Sans", sans-serif' font-size="6.3" font-weight="bold" fill="#2a2a2a" text-anchor="end">cHL</text>
<text stroke="#4d4d4d" stroke-width="0.137" x="390.2" y="193.7" font-family='"Liberation Sans", sans-serif' font-size="5.7" fill="#4d4d4d" text-anchor="end">03011</text>
<line x1="392.2" y1="191.7" x2="395.1" y2="191.7" stroke="#aab4be" stroke-width="0.6"/>
<text x="419.1" y="194.3" font-family='"Liberation Sans", sans-serif' font-size="6.3" font-weight="bold" fill="#2a2a2a" text-anchor="end">cHL</text>
<text stroke="#4d4d4d" stroke-width="0.137" x="390.2" y="200.9" font-family='"Liberation Sans", sans-serif' font-size="5.7" fill="#4d4d4d" text-anchor="end">02008</text>
<line x1="392.2" y1="198.9" x2="395.1" y2="198.9" stroke="#aab4be" stroke-width="0.6"/>
<text x="419.1" y="201.5" font-family='"Liberation Sans", sans-serif' font-size="6.3" font-weight="bold" fill="#2a2a2a" text-anchor="end">cHL</text>
<text stroke="#4d4d4d" stroke-width="0.137" x="390.2" y="208.1" font-family='"Liberation Sans", sans-serif' font-size="5.7" fill="#4d4d4d" text-anchor="end">14004</text>
<line x1="392.2" y1="206.1" x2="395.1" y2="206.1" stroke="#aab4be" stroke-width="0.6"/>
<text x="419.1" y="208.7" font-family='"Liberation Sans", sans-serif' font-size="6.3" font-weight="bold" fill="#2a2a2a" text-anchor="end">cHL</text>
<text stroke="#4d4d4d" stroke-width="0.137" x="390.2" y="215.3" font-family='"Liberation Sans", sans-serif' font-size="5.7" fill="#4d4d4d" text-anchor="end">09008</text>
<line x1="392.2" y1="213.3" x2="395.1" y2="213.3" stroke="#aab4be" stroke-width="0.6"/>
<text x="419.1" y="215.9" font-family='"Liberation Sans", sans-serif' font-size="6.3" font-weight="bold" fill="#2a2a2a" text-anchor="end">cHL</text>
<text stroke="#4d4d4d" stroke-width="0.137" x="390.2" y="222.5" font-family='"Liberation Sans", sans-serif' font-size="5.7" fill="#4d4d4d" text-anchor="end">12001</text>
<line x1="392.2" y1="220.5" x2="395.1" y2="220.5" stroke="#aab4be" stroke-width="0.6"/>
<text x="419.1" y="223.1" font-family='"Liberation Sans", sans-serif' font-size="6.3" font-weight="bold" fill="#2a2a2a" text-anchor="end">cHL</text>
<text stroke="#4d4d4d" stroke-width="0.137" x="390.2" y="229.7" font-family='"Liberation Sans", sans-serif' font-size="5.7" fill="#4d4d4d" text-anchor="end">05002</text>
<line x1="392.2" y1="227.7" x2="395.1" y2="227.7" stroke="#aab4be" stroke-width="0.6"/>
<text x="419.1" y="230.3" font-family='"Liberation Sans", sans-serif' font-size="6.3" font-weight="bold" fill="#2a2a2a" text-anchor="end">cHL</text>
<text stroke="#4d4d4d" stroke-width="0.137" x="390.2" y="236.9" font-family='"Liberation Sans", sans-serif' font-size="5.7" fill="#4d4d4d" text-anchor="end">09009</text>
<line x1="392.2" y1="234.9" x2="395.1" y2="234.9" stroke="#aab4be" stroke-width="0.6"/>
<text x="419.1" y="237.5" font-family='"Liberation Sans", sans-serif' font-size="6.3" font-weight="bold" fill="#2a2a2a" text-anchor="end">cHL</text>
<text stroke="#4d4d4d" stroke-width="0.137" x="390.2" y="244.1" font-family='"Liberation Sans", sans-serif' font-size="5.7" fill="#4d4d4d" text-anchor="end">05001</text>
<line x1="392.2" y1="242.1" x2="395.1" y2="242.1" stroke="#aab4be" stroke-width="0.6"/>
<text x="419.1" y="244.7" font-family='"Liberation Sans", sans-serif' font-size="6.3" font-weight="bold" fill="#2a2a2a" text-anchor="end">cHL</text>
<text stroke="#4d4d4d" stroke-width="0.137" x="390.2" y="251.3" font-family='"Liberation Sans", sans-serif' font-size="5.7" fill="#4d4d4d" text-anchor="end">09004</text>
<line x1="392.2" y1="249.3" x2="395.1" y2="249.3" stroke="#aab4be" stroke-width="0.6"/>
<text x="419.1" y="251.9" font-family='"Liberation Sans", sans-serif' font-size="6.3" font-weight="bold" fill="#2a2a2a" text-anchor="end">cHL</text>
<text stroke="#4d4d4d" stroke-width="0.137" x="390.2" y="258.5" font-family='"Liberation Sans", sans-serif' font-size="5.7" fill="#4d4d4d" text-anchor="end">06002</text>
<line x1="392.2" y1="256.5" x2="395.1" y2="256.5" stroke="#aab4be" stroke-width="0.6"/>
<text x="419.1" y="259.1" font-family='"Liberation Sans", sans-serif' font-size="6.3" font-weight="bold" fill="#2a2a2a" text-anchor="end">cHL</text>
<text stroke="#4d4d4d" stroke-width="0.137" x="390.2" y="265.7" font-family='"Liberation Sans", sans-serif' font-size="5.7" fill="#4d4d4d" text-anchor="end">14002</text>
<line x1="392.2" y1="263.7" x2="395.1" y2="263.7" stroke="#aab4be" stroke-width="0.6"/>
<text x="419.1" y="266.3" font-family='"Liberation Sans", sans-serif' font-size="6.3" font-weight="bold" fill="#2a2a2a" text-anchor="end">cHL</text>
<text stroke="#4d4d4d" stroke-width="0.137" x="390.2" y="272.9" font-family='"Liberation Sans", sans-serif' font-size="5.7" fill="#4d4d4d" text-anchor="end">09007</text>
<line x1="392.2" y1="270.9" x2="395.1" y2="270.9" stroke="#aab4be" stroke-width="0.6"/>
<text x="419.1" y="273.5" font-family='"Liberation Sans", sans-serif' font-size="6.3" font-weight="bold" fill="#2a2a2a" text-anchor="end">cHL</text>
<text stroke="#4d4d4d" stroke-width="0.137" x="390.2" y="280.1" font-family='"Liberation Sans", sans-serif' font-size="5.7" fill="#4d4d4d" text-anchor="end">08004</text>
<line x1="392.2" y1="278.1" x2="395.1" y2="278.1" stroke="#aab4be" stroke-width="0.6"/>
<text x="419.1" y="280.7" font-family='"Liberation Sans", sans-serif' font-size="6.3" font-weight="bold" fill="#2a2a2a" text-anchor="end">cHL</text>
<text stroke="#4d4d4d" stroke-width="0.137" x="390.2" y="287.3" font-family='"Liberation Sans", sans-serif' font-size="5.7" fill="#4d4d4d" text-anchor="end">08001</text>
<line x1="392.2" y1="285.3" x2="395.1" y2="285.3" stroke="#aab4be" stroke-width="0.6"/>
<text x="419.1" y="287.9" font-family='"Liberation Sans", sans-serif' font-size="6.3" font-weight="bold" fill="#2a2a2a" text-anchor="end">cHL</text>
<text stroke="#4d4d4d" stroke-width="0.137" x="390.2" y="294.5" font-family='"Liberation Sans", sans-serif' font-size="5.7" fill="#4d4d4d" text-anchor="end">10004</text>
<line x1="392.2" y1="292.5" x2="395.1" y2="292.5" stroke="#aab4be" stroke-width="0.6"/>
<text x="419.1" y="295.1" font-family='"Liberation Sans", sans-serif' font-size="6.3" font-weight="bold" fill="#2a2a2a" text-anchor="end">cHL</text>
<text stroke="#4d4d4d" stroke-width="0.137" x="390.2" y="301.7" font-family='"Liberation Sans", sans-serif' font-size="5.7" fill="#4d4d4d" text-anchor="end">06003</text>
<line x1="392.2" y1="299.7" x2="395.1" y2="299.7" stroke="#aab4be" stroke-width="0.6"/>
<text x="419.1" y="302.3" font-family='"Liberation Sans", sans-serif' font-size="6.3" font-weight="bold" fill="#2a2a2a" text-anchor="end">cHL</text>
<text stroke="#4d4d4d" stroke-width="0.137" x="390.2" y="308.9" font-family='"Liberation Sans", sans-serif' font-size="5.7" fill="#4d4d4d" text-anchor="end">03013</text>
<line x1="392.2" y1="306.9" x2="395.1" y2="306.9" stroke="#aab4be" stroke-width="0.6"/>
<text x="419.1" y="309.5" font-family='"Liberation Sans", sans-serif' font-size="6.3" font-weight="bold" fill="#2a2a2a" text-anchor="end">cHL</text>
<text stroke="#4d4d4d" stroke-width="0.137" x="390.2" y="316.1" font-family='"Liberation Sans", sans-serif' font-size="5.7" fill="#4d4d4d" text-anchor="end">05003</text>
<line x1="392.2" y1="314.1" x2="395.1" y2="314.1" stroke="#aab4be" stroke-width="0.6"/>
<text x="419.1" y="316.7" font-family='"Liberation Sans", sans-serif' font-size="6.3" font-weight="bold" fill="#2a2a2a" text-anchor="end">cHL</text>
<text stroke="#4d4d4d" stroke-width="0.137" x="390.2" y="323.3" font-family='"Liberation Sans", sans-serif' font-size="5.7" fill="#4d4d4d" text-anchor="end">09010</text>
<line x1="392.2" y1="321.3" x2="395.1" y2="321.3" stroke="#aab4be" stroke-width="0.6"/>
<text x="419.1" y="323.9" font-family='"Liberation Sans", sans-serif' font-size="6.3" font-weight="bold" fill="#2a2a2a" text-anchor="end">cHL</text>
<text stroke="#4d4d4d" stroke-width="0.137" x="390.2" y="330.5" font-family='"Liberation Sans", sans-serif' font-size="5.7" fill="#4d4d4d" text-anchor="end">08002</text>
<line x1="392.2" y1="328.5" x2="395.1" y2="328.5" stroke="#aab4be" stroke-width="0.6"/>
<text stroke="#2e2e2e" stroke-width="0.158" x="419.1" y="331.1" font-family='"Liberation Sans", sans-serif' font-size="6.6" font-weight="normal" fill="#2e2e2e" text-anchor="end">cHL</text>
<text stroke="#4d4d4d" stroke-width="0.137" x="390.2" y="337.7" font-family='"Liberation Sans", sans-serif' font-size="5.7" fill="#4d4d4d" text-anchor="end">12002</text>
<line x1="392.2" y1="335.7" x2="395.1" y2="335.7" stroke="#aab4be" stroke-width="0.6"/>
<text stroke="#2e2e2e" stroke-width="0.158" x="419.1" y="338.3" font-family='"Liberation Sans", sans-serif' font-size="6.6" font-weight="normal" fill="#2e2e2e" text-anchor="end">cHL</text>
<text stroke="#4d4d4d" stroke-width="0.137" x="390.2" y="344.9" font-family='"Liberation Sans", sans-serif' font-size="5.7" fill="#4d4d4d" text-anchor="end">10002</text>
<line x1="392.2" y1="342.9" x2="395.1" y2="342.9" stroke="#aab4be" stroke-width="0.6"/>
<text stroke="#2e2e2e" stroke-width="0.158" x="419.1" y="345.5" font-family='"Liberation Sans", sans-serif' font-size="6.6" font-weight="normal" fill="#2e2e2e" text-anchor="end">cHL</text>
<text stroke="#4d4d4d" stroke-width="0.137" x="390.2" y="352.1" font-family='"Liberation Sans", sans-serif' font-size="5.7" fill="#4d4d4d" text-anchor="end">14005</text>
<line x1="392.2" y1="350.1" x2="395.1" y2="350.1" stroke="#aab4be" stroke-width="0.6"/>
<text stroke="#2e2e2e" stroke-width="0.158" x="419.1" y="352.7" font-family='"Liberation Sans", sans-serif' font-size="6.6" font-weight="normal" fill="#2e2e2e" text-anchor="end">cHL</text>
<text stroke="#4d4d4d" stroke-width="0.137" x="390.2" y="359.3" font-family='"Liberation Sans", sans-serif' font-size="5.7" fill="#4d4d4d" text-anchor="end">11002</text>
<line x1="392.2" y1="357.3" x2="395.1" y2="357.3" stroke="#aab4be" stroke-width="0.6"/>
<text stroke="#2e2e2e" stroke-width="0.158" x="419.1" y="359.9" font-family='"Liberation Sans", sans-serif' font-size="6.6" font-weight="normal" fill="#2e2e2e" text-anchor="end">cHL</text>
<rect x="422.4" y="30.5" width="241.97" height="5.6" fill="#F7B7C5" stroke="#3a3a3a" stroke-width="0.8"/>
<rect x="422.4" y="37.7" width="185.53" height="5.6" fill="#F7B7C5" stroke="#3a3a3a" stroke-width="0.8"/>
<rect x="422.4" y="44.9" width="142.78" height="5.6" fill="#F7B7C5" stroke="#3a3a3a" stroke-width="0.8"/>
<rect x="422.4" y="52.1" width="47.03" height="5.6" fill="#F7B7C5" stroke="#3a3a3a" stroke-width="0.8"/>
<rect x="422.4" y="59.3" width="41.9" height="5.6" fill="#F7B7C5" stroke="#3a3a3a" stroke-width="0.8"/>
<rect x="422.4" y="66.5" width="37.19" height="5.6" fill="#F7B7C5" stroke="#3a3a3a" stroke-width="0.8"/>
<rect x="422.4" y="73.7" width="29.93" height="5.6" fill="#F7B7C5" stroke="#3a3a3a" stroke-width="0.8"/>
<rect x="422.4" y="80.9" width="12.23" height="5.6" fill="#F7B7C5" stroke="#3a3a3a" stroke-width="0.8"/>
<rect x="422.4" y="88.1" width="11.8" height="5.6" fill="#F7B7C5" stroke="#3a3a3a" stroke-width="0.8"/>
<rect x="422.4" y="95.3" width="5.99" height="5.6" fill="#F7B7C5" stroke="#3a3a3a" stroke-width="0.8"/>
<rect x="422.4" y="102.5" width="230.85" height="5.6" fill="#79C9F0" stroke="#3a3a3a" stroke-width="0.8"/>
<rect x="422.4" y="109.7" width="218.03" height="5.6" fill="#79C9F0" stroke="#3a3a3a" stroke-width="0.8"/>
<rect x="422.4" y="116.9" width="177.84" height="5.6" fill="#79C9F0" stroke="#3a3a3a" stroke-width="0.8"/>
<rect x="422.4" y="124.1" width="176.99" height="5.6" fill="#79C9F0" stroke="#3a3a3a" stroke-width="0.8"/>
<rect x="422.4" y="131.3" width="160.74" height="5.6" fill="#79C9F0" stroke="#3a3a3a" stroke-width="0.8"/>
<rect x="422.4" y="138.5" width="159.89" height="5.6" fill="#79C9F0" stroke="#3a3a3a" stroke-width="0.8"/>
<rect x="422.4" y="145.7" width="153.9" height="5.6" fill="#79C9F0" stroke="#3a3a3a" stroke-width="0.8"/>
<rect x="422.4" y="152.9" width="149.62" height="5.6" fill="#79C9F0" stroke="#3a3a3a" stroke-width="0.8"/>
<rect x="422.4" y="160.1" width="145.35" height="5.6" fill="#79C9F0" stroke="#3a3a3a" stroke-width="0.8"/>
<rect x="422.4" y="167.3" width="145.35" height="5.6" fill="#79C9F0" stroke="#3a3a3a" stroke-width="0.8"/>
<rect x="422.4" y="174.5" width="143.13" height="5.6" fill="#79C9F0" stroke="#3a3a3a" stroke-width="0.8"/>
<rect x="422.4" y="181.7" width="141.08" height="5.6" fill="#79C9F0" stroke="#3a3a3a" stroke-width="0.8"/>
<rect x="422.4" y="188.9" width="141.08" height="5.6" fill="#79C9F0" stroke="#3a3a3a" stroke-width="0.8"/>
<rect x="422.4" y="196.1" width="125.86" height="5.6" fill="#79C9F0" stroke="#3a3a3a" stroke-width="0.8"/>
<rect x="422.4" y="203.3" width="123.98" height="5.6" fill="#79C9F0" stroke="#3a3a3a" stroke-width="0.8"/>
<rect x="422.4" y="210.5" width="109.44" height="5.6" fill="#79C9F0" stroke="#3a3a3a" stroke-width="0.8"/>
<rect x="422.4" y="217.7" width="89.78" height="5.6" fill="#79C9F0" stroke="#3a3a3a" stroke-width="0.8"/>
<rect x="422.4" y="224.9" width="89.35" height="5.6" fill="#79C9F0" stroke="#3a3a3a" stroke-width="0.8"/>
<rect x="422.4" y="232.1" width="75.58" height="5.6" fill="#79C9F0" stroke="#3a3a3a" stroke-width="0.8"/>
<rect x="422.4" y="239.3" width="70.79" height="5.6" fill="#79C9F0" stroke="#3a3a3a" stroke-width="0.8"/>
<rect x="422.4" y="246.5" width="62.07" height="5.6" fill="#79C9F0" stroke="#3a3a3a" stroke-width="0.8"/>
<rect x="422.4" y="253.7" width="59.17" height="5.6" fill="#79C9F0" stroke="#3a3a3a" stroke-width="0.8"/>
<rect x="422.4" y="260.9" width="55.32" height="5.6" fill="#79C9F0" stroke="#3a3a3a" stroke-width="0.8"/>
<rect x="422.4" y="268.1" width="54.98" height="5.6" fill="#79C9F0" stroke="#3a3a3a" stroke-width="0.8"/>
<rect x="422.4" y="275.3" width="54.38" height="5.6" fill="#79C9F0" stroke="#3a3a3a" stroke-width="0.8"/>
<rect x="422.4" y="282.5" width="51.9" height="5.6" fill="#79C9F0" stroke="#3a3a3a" stroke-width="0.8"/>
<rect x="422.4" y="289.7" width="47.28" height="5.6" fill="#79C9F0" stroke="#3a3a3a" stroke-width="0.8"/>
<rect x="422.4" y="296.9" width="35.05" height="5.6" fill="#79C9F0" stroke="#3a3a3a" stroke-width="0.8"/>
<rect x="422.4" y="304.1" width="35.05" height="5.6" fill="#79C9F0" stroke="#3a3a3a" stroke-width="0.8"/>
<rect x="422.4" y="311.3" width="29.07" height="5.6" fill="#79C9F0" stroke="#3a3a3a" stroke-width="0.8"/>
<rect x="422.4" y="318.5" width="29.07" height="5.6" fill="#79C9F0" stroke="#3a3a3a" stroke-width="0.8"/>
<rect x="422.4" y="325.7" width="18.13" height="5.6" fill="#79C9F0" stroke="#3a3a3a" stroke-width="0.8"/>
<rect x="422.4" y="332.9" width="18.13" height="5.6" fill="#79C9F0" stroke="#3a3a3a" stroke-width="0.8"/>
<rect x="422.4" y="340.1" width="11.8" height="5.6" fill="#79C9F0" stroke="#3a3a3a" stroke-width="0.8"/>
<rect x="422.4" y="347.3" width="6.07" height="5.6" fill="#79C9F0" stroke="#3a3a3a" stroke-width="0.8"/>
<rect x="422.4" y="354.5" width="6.07" height="5.6" fill="#79C9F0" stroke="#3a3a3a" stroke-width="0.8"/>
<circle cx="438.82" cy="33.3" r="1.7" fill="#2E8B3F"/>
<circle cx="458.31" cy="33.3" r="1.7" fill="#2E8B3F"/>
<circle cx="475.07" cy="33.3" r="1.7" fill="#2E8B3F"/>
<circle cx="491.65" cy="33.3" r="1.7" fill="#2E8B3F"/>
<circle cx="509.27" cy="33.3" r="1.7" fill="#2E8B3F"/>
<circle cx="526.71" cy="33.3" r="1.7" fill="#2E8B3F"/>
<circle cx="544.66" cy="33.3" r="1.7" fill="#2E8B3F"/>
<circle cx="562.19" cy="33.3" r="1.7" fill="#2E8B3F"/>
<circle cx="580.58" cy="33.3" r="1.7" fill="#2E8B3F"/>
<circle cx="598.53" cy="33.3" r="1.7" fill="#2E8B3F"/>
<circle cx="617.34" cy="33.3" r="1.7" fill="#2E8B3F"/>
<circle cx="635.29" cy="33.3" r="1.7" fill="#2E8B3F"/>
<path d="M652.82,31.3 L654.77,34.75 L650.87,34.75 Z" fill="#E8222A"/>
<path d="M663.07,32.5 L667.67,32.5 M665.67,30.3 L667.77,32.5 L665.67,34.7" fill="none" stroke="#737a82" stroke-width="0.7"/>
<path d="M440.35,38.3 L442.55,40.5 L440.35,42.7 L438.15,40.5 Z" fill="#F26A5A"/>
<path d="M458.31,38.3 L460.51,40.5 L458.31,42.7 L456.11,40.5 Z" fill="#F26A5A"/>
<path d="M477.97,38.3 L480.17,40.5 L477.97,42.7 L475.77,40.5 Z" fill="#F26A5A"/>
<path d="M492.51,38.3 L494.71,40.5 L492.51,42.7 L490.31,40.5 Z" fill="#F26A5A"/>
<path d="M512.17,38.3 L514.38,40.5 L512.17,42.7 L509.97,40.5 Z" fill="#F26A5A"/>
<path d="M530.13,38.3 L532.33,40.5 L530.13,42.7 L527.93,40.5 Z" fill="#F26A5A"/>
<path d="M544.66,38.3 L546.87,40.5 L544.66,42.7 L542.46,40.5 Z" fill="#F26A5A"/>
<path d="M562.19,38.3 L564.39,40.5 L562.19,42.7 L559.99,40.5 Z" fill="#F26A5A"/>
<path d="M583.14,38.3 L585.34,40.5 L583.14,42.7 L580.94,40.5 Z" fill="#F26A5A"/>
<path d="M601.95,38.3 L604.15,40.5 L601.95,42.7 L599.75,40.5 Z" fill="#F26A5A"/>
<path d="M606.63,39.7 L611.24,39.7 M609.24,37.5 L611.34,39.7 L609.24,41.9" fill="none" stroke="#737a82" stroke-width="0.7"/>
<circle cx="438.64" cy="47.7" r="1.7" fill="#2E8B3F"/>
<circle cx="456.6" cy="47.7" r="1.7" fill="#2E8B3F"/>
<circle cx="473.7" cy="47.7" r="1.7" fill="#2E8B3F"/>
<circle cx="505.76" cy="47.7" r="1.7" fill="#2E8B3F"/>
<circle cx="526.71" cy="47.7" r="1.7" fill="#2E8B3F"/>
<path d="M544.66,45.7 L546.62,49.15 L542.71,49.15 Z" fill="#E8222A"/>
<path d="M562.19,45.7 L564.14,49.15 L560.24,49.15 Z" fill="#E8222A"/>
<path d="M439.5,52.7 L441.7,54.9 L439.5,57.1 L437.3,54.9 Z" fill="#F26A5A"/>
<path d="M457.45,52.9 L459.4,56.35 L455.5,56.35 Z" fill="#E8222A"/>
<path d="M469,52.9 L470.95,56.35 L467.05,56.35 Z" fill="#E8222A"/>
<rect x="438.85" y="60.6" width="3" height="3" rx="0.6" fill="#F9A21B"/>
<rect x="455.1" y="60.6" width="3" height="3" rx="0.6" fill="#F9A21B"/>
<path d="M438.64,67.3 L440.59,70.75 L436.69,70.75 Z" fill="#E8222A"/>
<path d="M455.75,67.3 L457.69,70.75 L453.8,70.75 Z" fill="#E8222A"/>
<path d="M440.35,74.3 L442.55,76.5 L440.35,78.7 L438.15,76.5 Z" fill="#F26A5A"/>
<path d="M453.18,74.3 L455.38,76.5 L453.18,78.7 L450.98,76.5 Z" fill="#F26A5A"/>
<polygon points="490.8,73.9 491.49,75.55 493.27,75.7 491.91,76.86 492.33,78.6 490.8,77.67 489.27,78.6 489.69,76.86 488.33,75.7 490.11,75.55" fill="#111"/>
<path d="M427.79,81.7 L429.74,85.15 L425.84,85.15 Z" fill="#E8222A"/>
<path d="M432.66,81.7 L434.61,85.15 L430.71,85.15 Z" fill="#E8222A"/>
<polygon points="475.07,81.1 475.76,82.75 477.54,82.9 476.18,84.06 476.6,85.8 475.07,84.87 473.54,85.8 473.96,84.06 472.6,82.9 474.38,82.75" fill="#111"/>
<polygon points="466,88.3 466.69,89.95 468.48,90.1 467.12,91.26 467.53,93 466,92.07 464.48,93 464.89,91.26 463.53,90.1 465.32,89.95" fill="#111"/>
<polygon points="606.23,95.5 606.91,97.15 608.7,97.3 607.34,98.46 607.75,100.2 606.23,99.27 604.7,100.2 605.11,98.46 603.75,97.3 605.54,97.15" fill="#111"/>
<path d="M439.5,103.1 L441.7,105.3 L439.5,107.5 L437.3,105.3 Z" fill="#F26A5A"/>
<path d="M456.17,103.1 L458.37,105.3 L456.17,107.5 L453.97,105.3 Z" fill="#F26A5A"/>
<path d="M473.7,103.1 L475.9,105.3 L473.7,107.5 L471.5,105.3 Z" fill="#F26A5A"/>
<path d="M491.65,103.1 L493.85,105.3 L491.65,107.5 L489.45,105.3 Z" fill="#F26A5A"/>
<path d="M516.96,103.1 L519.16,105.3 L516.96,107.5 L514.76,105.3 Z" fill="#F26A5A"/>
<path d="M526.71,103.1 L528.91,105.3 L526.71,107.5 L524.51,105.3 Z" fill="#F26A5A"/>
<path d="M544.66,103.1 L546.87,105.3 L544.66,107.5 L542.46,105.3 Z" fill="#F26A5A"/>
<path d="M562.19,103.1 L564.39,105.3 L562.19,107.5 L559.99,105.3 Z" fill="#F26A5A"/>
<path d="M580.58,103.1 L582.78,105.3 L580.58,107.5 L578.38,105.3 Z" fill="#F26A5A"/>
<path d="M599.38,103.1 L601.59,105.3 L599.38,107.5 L597.18,105.3 Z" fill="#F26A5A"/>
<path d="M634.44,103.1 L636.64,105.3 L634.44,107.5 L632.24,105.3 Z" fill="#F26A5A"/>
<path d="M651.95,104.5 L656.55,104.5 M654.55,102.3 L656.65,104.5 L654.55,106.7" fill="none" stroke="#737a82" stroke-width="0.7"/>
<circle cx="438.22" cy="112.5" r="1.7" fill="#2E8B3F"/>
<circle cx="457.11" cy="112.5" r="1.7" fill="#2E8B3F"/>
<circle cx="474.3" cy="112.5" r="1.7" fill="#2E8B3F"/>
<circle cx="492.17" cy="112.5" r="1.7" fill="#2E8B3F"/>
<circle cx="511.32" cy="112.5" r="1.7" fill="#2E8B3F"/>
<circle cx="527.57" cy="112.5" r="1.7" fill="#2E8B3F"/>
<circle cx="544.66" cy="112.5" r="1.7" fill="#2E8B3F"/>
<path d="M562.19,110.5 L564.14,113.95 L560.24,113.95 Z" fill="#E8222A"/>
<path d="M579.72,110.3 L581.92,112.5 L579.72,114.7 L577.52,112.5 Z" fill="#F26A5A"/>
<path d="M597.67,110.3 L599.88,112.5 L597.67,114.7 L595.47,112.5 Z" fill="#F26A5A"/>
<circle cx="617.34" cy="112.5" r="1.7" fill="#2E8B3F"/>
<path d="M635.29,110.5 L637.25,113.95 L633.34,113.95 Z" fill="#E8222A"/>
<path d="M639.12,111.7 L643.73,111.7 M641.73,109.5 L643.83,111.7 L641.73,113.9" fill="none" stroke="#737a82" stroke-width="0.7"/>
<circle cx="438.22" cy="119.7" r="1.7" fill="#2E8B3F"/>
<circle cx="456.17" cy="119.7" r="1.7" fill="#2E8B3F"/>
<circle cx="473.7" cy="119.7" r="1.7" fill="#2E8B3F"/>
<circle cx="491.65" cy="119.7" r="1.7" fill="#2E8B3F"/>
<circle cx="509.61" cy="119.7" r="1.7" fill="#2E8B3F"/>
<circle cx="528.42" cy="119.7" r="1.7" fill="#2E8B3F"/>
<circle cx="545.52" cy="119.7" r="1.7" fill="#2E8B3F"/>
<circle cx="563.48" cy="119.7" r="1.7" fill="#2E8B3F"/>
<circle cx="581.43" cy="119.7" r="1.7" fill="#2E8B3F"/>
<path d="M598.94,118.9 L603.54,118.9 M601.54,116.7 L603.64,118.9 L601.54,121.1" fill="none" stroke="#737a82" stroke-width="0.7"/>
<circle cx="439.5" cy="126.9" r="1.7" fill="#2E8B3F"/>
<circle cx="456.6" cy="126.9" r="1.7" fill="#2E8B3F"/>
<circle cx="474.21" cy="126.9" r="1.7" fill="#2E8B3F"/>
<circle cx="493.19" cy="126.9" r="1.7" fill="#2E8B3F"/>
<circle cx="510.46" cy="126.9" r="1.7" fill="#2E8B3F"/>
<circle cx="528.42" cy="126.9" r="1.7" fill="#2E8B3F"/>
<circle cx="544.66" cy="126.9" r="1.7" fill="#2E8B3F"/>
<circle cx="562.62" cy="126.9" r="1.7" fill="#2E8B3F"/>
<circle cx="581.43" cy="126.9" r="1.7" fill="#2E8B3F"/>
<path d="M598.09,126.1 L602.69,126.1 M600.69,123.9 L602.79,126.1 L600.69,128.3" fill="none" stroke="#737a82" stroke-width="0.7"/>
<path d="M438.64,131.9 L440.84,134.1 L438.64,136.3 L436.44,134.1 Z" fill="#F26A5A"/>
<path d="M456.17,131.9 L458.37,134.1 L456.17,136.3 L453.97,134.1 Z" fill="#F26A5A"/>
<path d="M474.3,131.9 L476.5,134.1 L474.3,136.3 L472.1,134.1 Z" fill="#F26A5A"/>
<path d="M491.23,131.9 L493.43,134.1 L491.23,136.3 L489.03,134.1 Z" fill="#F26A5A"/>
<path d="M508.75,131.9 L510.95,134.1 L508.75,136.3 L506.56,134.1 Z" fill="#F26A5A"/>
<path d="M526.71,131.9 L528.91,134.1 L526.71,136.3 L524.51,134.1 Z" fill="#F26A5A"/>
<path d="M544.24,131.9 L546.44,134.1 L544.24,136.3 L542.04,134.1 Z" fill="#F26A5A"/>
<path d="M564.33,131.9 L566.53,134.1 L564.33,136.3 L562.13,134.1 Z" fill="#F26A5A"/>
<path d="M581.43,131.9 L583.63,134.1 L581.43,136.3 L579.23,134.1 Z" fill="#F26A5A"/>
<path d="M581.84,133.3 L586.44,133.3 M584.44,131.1 L586.54,133.3 L584.44,135.5" fill="none" stroke="#737a82" stroke-width="0.7"/>
<path d="M444.37,139.1 L446.57,141.3 L444.37,143.5 L442.17,141.3 Z" fill="#F26A5A"/>
<path d="M457.45,139.1 L459.65,141.3 L457.45,143.5 L455.25,141.3 Z" fill="#F26A5A"/>
<path d="M475.84,139.1 L478.04,141.3 L475.84,143.5 L473.64,141.3 Z" fill="#F26A5A"/>
<path d="M493.19,139.1 L495.39,141.3 L493.19,143.5 L490.99,141.3 Z" fill="#F26A5A"/>
<path d="M510.46,139.1 L512.66,141.3 L510.46,143.5 L508.26,141.3 Z" fill="#F26A5A"/>
<path d="M529.87,139.1 L532.07,141.3 L529.87,143.5 L527.67,141.3 Z" fill="#F26A5A"/>
<path d="M545.52,139.1 L547.72,141.3 L545.52,143.5 L543.32,141.3 Z" fill="#F26A5A"/>
<path d="M563.48,139.1 L565.68,141.3 L563.48,143.5 L561.27,141.3 Z" fill="#F26A5A"/>
<path d="M581.43,139.3 L583.38,142.75 L579.48,142.75 Z" fill="#E8222A"/>
<circle cx="439.5" cy="148.5" r="1.7" fill="#2E8B3F"/>
<circle cx="457.45" cy="148.5" r="1.7" fill="#2E8B3F"/>
<circle cx="474.3" cy="148.5" r="1.7" fill="#2E8B3F"/>
<circle cx="493.37" cy="148.5" r="1.7" fill="#2E8B3F"/>
<path d="M509.27,146.3 L511.47,148.5 L509.27,150.7 L507.07,148.5 Z" fill="#F26A5A"/>
<circle cx="528.42" cy="148.5" r="1.7" fill="#2E8B3F"/>
<circle cx="545.52" cy="148.5" r="1.7" fill="#2E8B3F"/>
<circle cx="563.48" cy="148.5" r="1.7" fill="#2E8B3F"/>
<path d="M575,147.7 L579.6,147.7 M577.6,145.5 L579.7,147.7 L577.6,149.9" fill="none" stroke="#737a82" stroke-width="0.7"/>
<circle cx="436.94" cy="155.7" r="1.7" fill="#2E8B3F"/>
<circle cx="456.17" cy="155.7" r="1.7" fill="#2E8B3F"/>
<circle cx="473.7" cy="155.7" r="1.7" fill="#2E8B3F"/>
<circle cx="491.65" cy="155.7" r="1.7" fill="#2E8B3F"/>
<circle cx="509.61" cy="155.7" r="1.7" fill="#2E8B3F"/>
<circle cx="526.71" cy="155.7" r="1.7" fill="#2E8B3F"/>
<circle cx="544.66" cy="155.7" r="1.7" fill="#2E8B3F"/>
<path d="M557.49,153.7 L559.44,157.15 L555.54,157.15 Z" fill="#E8222A"/>
<path d="M439.16,160.7 L441.36,162.9 L439.16,165.1 L436.96,162.9 Z" fill="#F26A5A"/>
<path d="M459.42,160.7 L461.62,162.9 L459.42,165.1 L457.22,162.9 Z" fill="#F26A5A"/>
<path d="M477.38,160.9 L479.33,164.35 L475.43,164.35 Z" fill="#E8222A"/>
<path d="M491.23,160.9 L493.18,164.35 L489.28,164.35 Z" fill="#E8222A"/>
<path d="M510.46,160.9 L512.41,164.35 L508.51,164.35 Z" fill="#E8222A"/>
<path d="M526.71,160.9 L528.66,164.35 L524.76,164.35 Z" fill="#E8222A"/>
<path d="M550.65,160.9 L552.6,164.35 L548.7,164.35 Z" fill="#E8222A"/>
<path d="M561.76,160.9 L563.72,164.35 L559.81,164.35 Z" fill="#E8222A"/>
<path d="M566.45,162.1 L571.05,162.1 M569.05,159.9 L571.15,162.1 L569.05,164.3" fill="none" stroke="#737a82" stroke-width="0.7"/>
<path d="M438.64,167.9 L440.84,170.1 L438.64,172.3 L436.44,170.1 Z" fill="#F26A5A"/>
<path d="M456.17,167.9 L458.37,170.1 L456.17,172.3 L453.97,170.1 Z" fill="#F26A5A"/>
<path d="M491.23,167.9 L493.43,170.1 L491.23,172.3 L489.03,170.1 Z" fill="#F26A5A"/>
<path d="M509.27,167.9 L511.47,170.1 L509.27,172.3 L507.07,170.1 Z" fill="#F26A5A"/>
<path d="M527.57,167.9 L529.77,170.1 L527.57,172.3 L525.37,170.1 Z" fill="#F26A5A"/>
<path d="M546.38,168.1 L548.33,171.55 L544.42,171.55 Z" fill="#E8222A"/>
<path d="M564.33,168.1 L566.28,171.55 L562.38,171.55 Z" fill="#E8222A"/>
<path d="M442.06,175.1 L444.26,177.3 L442.06,179.5 L439.87,177.3 Z" fill="#F26A5A"/>
<path d="M457.45,175.1 L459.65,177.3 L457.45,179.5 L455.25,177.3 Z" fill="#F26A5A"/>
<path d="M475.41,175.1 L477.61,177.3 L475.41,179.5 L473.21,177.3 Z" fill="#F26A5A"/>
<path d="M493.37,175.1 L495.56,177.3 L493.37,179.5 L491.17,177.3 Z" fill="#F26A5A"/>
<path d="M510.46,175.1 L512.66,177.3 L510.46,179.5 L508.26,177.3 Z" fill="#F26A5A"/>
<path d="M528.42,175.1 L530.62,177.3 L528.42,179.5 L526.22,177.3 Z" fill="#F26A5A"/>
<path d="M546.38,175.1 L548.58,177.3 L546.38,179.5 L544.17,177.3 Z" fill="#F26A5A"/>
<path d="M564.23,176.5 L568.83,176.5 M566.83,174.3 L568.93,176.5 L566.83,178.7" fill="none" stroke="#737a82" stroke-width="0.7"/>
<path d="M439.16,182.3 L441.36,184.5 L439.16,186.7 L436.96,184.5 Z" fill="#F26A5A"/>
<path d="M458.48,182.3 L460.68,184.5 L458.48,186.7 L456.28,184.5 Z" fill="#F26A5A"/>
<path d="M474.13,182.3 L476.33,184.5 L474.13,186.7 L471.93,184.5 Z" fill="#F26A5A"/>
<path d="M492.51,182.3 L494.71,184.5 L492.51,186.7 L490.31,184.5 Z" fill="#F26A5A"/>
<circle cx="511.32" cy="184.5" r="1.7" fill="#2E8B3F"/>
<circle cx="527.57" cy="184.5" r="1.7" fill="#2E8B3F"/>
<circle cx="545.09" cy="184.5" r="1.7" fill="#2E8B3F"/>
<path d="M563.05,182.5 L565,185.95 L561.1,185.95 Z" fill="#E8222A"/>
<path d="M441.81,189.5 L444.01,191.7 L441.81,193.9 L439.61,191.7 Z" fill="#F26A5A"/>
<path d="M457.11,189.5 L459.31,191.7 L457.11,193.9 L454.91,191.7 Z" fill="#F26A5A"/>
<path d="M473.7,189.5 L475.9,191.7 L473.7,193.9 L471.5,191.7 Z" fill="#F26A5A"/>
<path d="M491.23,189.5 L493.43,191.7 L491.23,193.9 L489.03,191.7 Z" fill="#F26A5A"/>
<path d="M508.75,189.5 L510.95,191.7 L508.75,193.9 L506.56,191.7 Z" fill="#F26A5A"/>
<path d="M528.42,189.5 L530.62,191.7 L528.42,193.9 L526.22,191.7 Z" fill="#F26A5A"/>
<path d="M545.52,189.5 L547.72,191.7 L545.52,193.9 L543.32,191.7 Z" fill="#F26A5A"/>
<path d="M562.18,190.9 L566.78,190.9 M564.78,188.7 L566.88,190.9 L564.78,193.1" fill="none" stroke="#737a82" stroke-width="0.7"/>
<circle cx="441.12" cy="198.9" r="1.7" fill="#2E8B3F"/>
<circle cx="458.74" cy="198.9" r="1.7" fill="#2E8B3F"/>
<circle cx="477.12" cy="198.9" r="1.7" fill="#2E8B3F"/>
<circle cx="494.73" cy="198.9" r="1.7" fill="#2E8B3F"/>
<circle cx="512.17" cy="198.9" r="1.7" fill="#2E8B3F"/>
<circle cx="529.87" cy="198.9" r="1.7" fill="#2E8B3F"/>
<path d="M546.96,198.1 L551.56,198.1 M549.56,195.9 L551.66,198.1 L549.56,200.3" fill="none" stroke="#737a82" stroke-width="0.7"/>
<path d="M439.5,203.9 L441.7,206.1 L439.5,208.3 L437.3,206.1 Z" fill="#F26A5A"/>
<path d="M460.02,203.9 L462.22,206.1 L460.02,208.3 L457.82,206.1 Z" fill="#F26A5A"/>
<path d="M477.38,203.9 L479.58,206.1 L477.38,208.3 L475.18,206.1 Z" fill="#F26A5A"/>
<path d="M493.37,203.9 L495.56,206.1 L493.37,208.3 L491.17,206.1 Z" fill="#F26A5A"/>
<path d="M511.32,203.9 L513.52,206.1 L511.32,208.3 L509.12,206.1 Z" fill="#F26A5A"/>
<path d="M528.85,203.9 L531.05,206.1 L528.85,208.3 L526.65,206.1 Z" fill="#F26A5A"/>
<path d="M546.38,203.9 L548.58,206.1 L546.38,208.3 L544.17,206.1 Z" fill="#F26A5A"/>
<circle cx="444.97" cy="213.3" r="1.7" fill="#2E8B3F"/>
<circle cx="457.45" cy="213.3" r="1.7" fill="#2E8B3F"/>
<circle cx="475.41" cy="213.3" r="1.7" fill="#2E8B3F"/>
<circle cx="495.07" cy="213.3" r="1.7" fill="#2E8B3F"/>
<circle cx="509.27" cy="213.3" r="1.7" fill="#2E8B3F"/>
<path d="M534.4,211.3 L536.36,214.75 L532.45,214.75 Z" fill="#E8222A"/>
<circle cx="439.5" cy="220.5" r="1.7" fill="#2E8B3F"/>
<path d="M459.42,218.5 L461.37,221.95 L457.47,221.95 Z" fill="#E8222A"/>
<path d="M476.26,218.5 L478.21,221.95 L474.31,221.95 Z" fill="#E8222A"/>
<path d="M493.37,218.5 L495.31,221.95 L491.42,221.95 Z" fill="#E8222A"/>
<path d="M511.32,218.5 L513.27,221.95 L509.37,221.95 Z" fill="#E8222A"/>
<polygon points="542.1,217.9 542.79,219.55 544.57,219.7 543.21,220.86 543.63,222.6 542.1,221.67 540.57,222.6 540.99,220.86 539.63,219.7 541.41,219.55" fill="#111"/>
<path d="M440.18,225.5 L442.38,227.7 L440.18,229.9 L437.98,227.7 Z" fill="#F26A5A"/>
<path d="M458.48,225.5 L460.68,227.7 L458.48,229.9 L456.28,227.7 Z" fill="#F26A5A"/>
<path d="M475.84,225.5 L478.04,227.7 L475.84,229.9 L473.64,227.7 Z" fill="#F26A5A"/>
<path d="M493.37,225.5 L495.56,227.7 L493.37,229.9 L491.17,227.7 Z" fill="#F26A5A"/>
<path d="M511.32,225.7 L513.27,229.15 L509.37,229.15 Z" fill="#E8222A"/>
<path d="M438.99,232.7 L441.19,234.9 L438.99,237.1 L436.79,234.9 Z" fill="#F26A5A"/>
<path d="M456.6,232.7 L458.8,234.9 L456.6,237.1 L454.4,234.9 Z" fill="#F26A5A"/>
<path d="M475.84,232.7 L478.04,234.9 L475.84,237.1 L473.64,234.9 Z" fill="#F26A5A"/>
<path d="M493.37,232.9 L495.31,236.35 L491.42,236.35 Z" fill="#E8222A"/>
<path d="M440.78,239.9 L442.98,242.1 L440.78,244.3 L438.58,242.1 Z" fill="#F26A5A"/>
<path d="M456.6,239.9 L458.8,242.1 L456.6,244.3 L454.4,242.1 Z" fill="#F26A5A"/>
<circle cx="475.84" cy="242.1" r="1.7" fill="#2E8B3F"/>
<path d="M491.23,240.1 L493.18,243.55 L489.28,243.55 Z" fill="#E8222A"/>
<circle cx="439.16" cy="249.3" r="1.7" fill="#2E8B3F"/>
<circle cx="456.6" cy="249.3" r="1.7" fill="#2E8B3F"/>
<circle cx="477.72" cy="249.3" r="1.7" fill="#2E8B3F"/>
<path d="M491.57,247.3 L493.52,250.75 L489.62,250.75 Z" fill="#E8222A"/>
<circle cx="439.16" cy="256.5" r="1.7" fill="#2E8B3F"/>
<circle cx="457.45" cy="256.5" r="1.7" fill="#2E8B3F"/>
<path d="M474.55,254.5 L476.5,257.95 L472.6,257.95 Z" fill="#E8222A"/>
<path d="M439.5,261.5 L441.7,263.7 L439.5,265.9 L437.3,263.7 Z" fill="#F26A5A"/>
<path d="M458.14,261.5 L460.34,263.7 L458.14,265.9 L455.94,263.7 Z" fill="#F26A5A"/>
<path d="M477.72,261.7 L479.67,265.15 L475.77,265.15 Z" fill="#E8222A"/>
<path d="M439.5,268.7 L441.7,270.9 L439.5,273.1 L437.3,270.9 Z" fill="#F26A5A"/>
<path d="M457.45,268.7 L459.65,270.9 L457.45,273.1 L455.25,270.9 Z" fill="#F26A5A"/>
<path d="M475.41,268.9 L477.36,272.35 L473.46,272.35 Z" fill="#E8222A"/>
<path d="M441.81,275.9 L444.01,278.1 L441.81,280.3 L439.61,278.1 Z" fill="#F26A5A"/>
<path d="M459.42,275.9 L461.62,278.1 L459.42,280.3 L457.22,278.1 Z" fill="#F26A5A"/>
<path d="M477.12,276.1 L479.07,279.55 L475.17,279.55 Z" fill="#E8222A"/>
<path d="M434.97,283.1 L437.17,285.3 L434.97,287.5 L432.77,285.3 Z" fill="#F26A5A"/>
<path d="M441.12,283.1 L443.32,285.3 L441.12,287.5 L438.92,285.3 Z" fill="#F26A5A"/>
<path d="M458.48,283.1 L460.68,285.3 L458.48,287.5 L456.28,285.3 Z" fill="#F26A5A"/>
<circle cx="485.84" cy="285.3" r="1.7" fill="#2E8B3F"/>
<circle cx="503.97" cy="285.3" r="1.7" fill="#2E8B3F"/>
<path d="M521.41,283.1 L523.61,285.3 L521.41,287.5 L519.21,285.3 Z" fill="#F26A5A"/>
<path d="M539.36,283.3 L541.31,286.75 L537.41,286.75 Z" fill="#E8222A"/>
<path d="M439.5,290.3 L441.7,292.5 L439.5,294.7 L437.3,292.5 Z" fill="#F26A5A"/>
<path d="M458.14,290.3 L460.34,292.5 L458.14,294.7 L455.94,292.5 Z" fill="#F26A5A"/>
<path d="M469.08,290.5 L471.03,293.95 L467.13,293.95 Z" fill="#E8222A"/>
<path d="M438.64,297.5 L440.84,299.7 L438.64,301.9 L436.44,299.7 Z" fill="#F26A5A"/>
<path d="M457.45,297.7 L459.4,301.15 L455.5,301.15 Z" fill="#E8222A"/>
<path d="M438.64,304.7 L440.84,306.9 L438.64,309.1 L436.44,306.9 Z" fill="#F26A5A"/>
<path d="M455.57,304.7 L457.77,306.9 L455.57,309.1 L453.37,306.9 Z" fill="#F26A5A"/>
<path d="M439.16,312.1 L441.11,315.55 L437.21,315.55 Z" fill="#E8222A"/>
<path d="M452.32,312.1 L454.27,315.55 L450.38,315.55 Z" fill="#E8222A"/>
<path d="M438.99,319.1 L441.19,321.3 L438.99,323.5 L436.79,321.3 Z" fill="#F26A5A"/>
<circle cx="486.78" cy="321.3" r="1.7" fill="#2E8B3F"/>
<path d="M440.18,326.5 L442.13,329.95 L438.23,329.95 Z" fill="#E8222A"/>
<path d="M443.6,333.7 L445.55,337.15 L441.65,337.15 Z" fill="#E8222A"/>
<path d="M434.2,340.7 L436.4,342.9 L434.2,345.1 L432,342.9 Z" fill="#F26A5A"/>
<path d="M428.47,355.3 L430.42,358.75 L426.52,358.75 Z" fill="#E8222A"/>
<rect x="594.4" y="281.4" width="86.3" height="83.8" fill="#fff" stroke="#e0e0e0" stroke-width="0.6"/>
<rect x="598.3" y="285.8" width="4" height="4" fill="#F7B7C5" stroke="#555" stroke-width="0.6"/>
<text stroke="#222" stroke-width="0.190" x="609.6" y="290.6" font-family='"Liberation Sans", sans-serif' font-size="7.9" fill="#222">100mg+toripalimab</text>
<rect x="598.3" y="296.13" width="4" height="4" fill="#79C9F0" stroke="#555" stroke-width="0.6"/>
<text stroke="#222" stroke-width="0.190" x="609.6" y="300.93" font-family='"Liberation Sans", sans-serif' font-size="7.9" fill="#222">200mg+toripalimab</text>
<rect x="598.8" y="306.96" width="3" height="3" rx="0.6" fill="#F9A21B"/>
<text stroke="#222" stroke-width="0.190" x="609.6" y="311.26" font-family='"Liberation Sans", sans-serif' font-size="7.9" fill="#222">CR</text>
<circle cx="600.3" cy="318.79" r="1.7" fill="#2E8B3F"/>
<text stroke="#222" stroke-width="0.190" x="609.6" y="321.59" font-family='"Liberation Sans", sans-serif' font-size="7.9" fill="#222">PR</text>
<path d="M600.3,326.92 L602.5,329.12 L600.3,331.32 L598.1,329.12 Z" fill="#F26A5A"/>
<text stroke="#222" stroke-width="0.190" x="609.6" y="331.92" font-family='"Liberation Sans", sans-serif' font-size="7.9" fill="#222">SD</text>
<path d="M600.3,337.45 L602.25,340.9 L598.35,340.9 Z" fill="#E8222A"/>
<text stroke="#222" stroke-width="0.190" x="609.6" y="342.25" font-family='"Liberation Sans", sans-serif' font-size="7.9" fill="#222">PD</text>
<path d="M598.3,349.78 L602.9,349.78 M600.9,347.58 L603,349.78 L600.9,351.98" fill="none" stroke="#999" stroke-width="0.7"/>
<text stroke="#222" stroke-width="0.190" x="609.6" y="352.58" font-family='"Liberation Sans", sans-serif' font-size="7.9" fill="#222">On Treatment</text>
<polygon points="600.3,357.71 600.93,359.24 602.58,359.37 601.33,360.44 601.71,362.05 600.3,361.19 598.89,362.05 599.27,360.44 598.02,359.37 599.67,359.24" fill="#111"/>
<text stroke="#222" stroke-width="0.190" x="609.6" y="362.91" font-family='"Liberation Sans", sans-serif' font-size="7.9" fill="#222">Death</text>
</svg>
</body></html>
